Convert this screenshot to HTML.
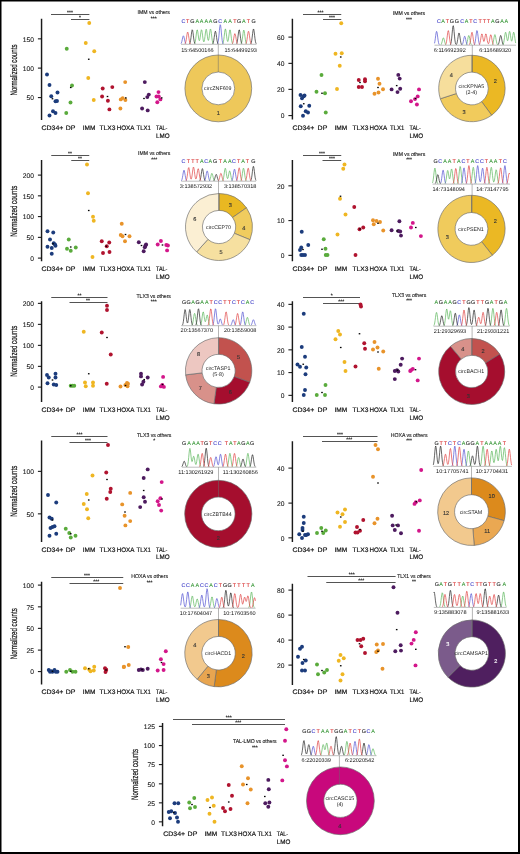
<!DOCTYPE html><html><head><meta charset="utf-8"><style>html,body{margin:0;padding:0;background:#fff;}svg{display:block;will-change:transform;}</style></head><body>
<svg width="520" height="854" viewBox="0 0 520 854" text-rendering="geometricPrecision" font-family='"Liberation Sans", sans-serif'>
<rect x="0" y="0" width="520" height="854" fill="#fff"/>
<line x1="41.55" y1="18.75" x2="41.55" y2="120" stroke="#1a1a1a" stroke-width="1.45"/>
<line x1="37.9" y1="38.85" x2="41.5" y2="38.85" stroke="#111" stroke-width="1.05"/>
<text x="33.9" y="41.5" font-size="6.7" text-anchor="end" fill="#1a1a1a" stroke="#1a1a1a" stroke-width="0.1">150</text>
<line x1="37.9" y1="68.1" x2="41.5" y2="68.1" stroke="#111" stroke-width="1.05"/>
<text x="33.9" y="70.75" font-size="6.7" text-anchor="end" fill="#1a1a1a" stroke="#1a1a1a" stroke-width="0.1">100</text>
<line x1="37.9" y1="97.6" x2="41.5" y2="97.6" stroke="#111" stroke-width="1.05"/>
<text x="33.9" y="100.25" font-size="6.7" text-anchor="end" fill="#1a1a1a" stroke="#1a1a1a" stroke-width="0.1">50</text>
<text transform="translate(17.2 70) rotate(-90)" x="0" y="0" font-size="9.4" text-anchor="middle" fill="#111" stroke="#111" stroke-width="0.2" textLength="51" lengthAdjust="spacingAndGlyphs">Normalized counts</text>
<text x="52.5" y="130.3" font-size="6.6" text-anchor="middle" fill="#111" stroke="#111" stroke-width="0.18" textLength="21.9" lengthAdjust="spacingAndGlyphs">CD34+</text>
<text x="70.6" y="130.3" font-size="6.6" text-anchor="middle" fill="#111" stroke="#111" stroke-width="0.18" textLength="9.7" lengthAdjust="spacingAndGlyphs">DP</text>
<text x="89.1" y="130.3" font-size="6.6" text-anchor="middle" fill="#111" stroke="#111" stroke-width="0.18" textLength="12.7" lengthAdjust="spacingAndGlyphs">IMM</text>
<text x="107.4" y="130.3" font-size="6.6" text-anchor="middle" fill="#111" stroke="#111" stroke-width="0.18" textLength="15.9" lengthAdjust="spacingAndGlyphs">TLX3</text>
<text x="125.5" y="130.3" font-size="6.6" text-anchor="middle" fill="#111" stroke="#111" stroke-width="0.18" textLength="17.7" lengthAdjust="spacingAndGlyphs">HOXA</text>
<text x="143.7" y="130.3" font-size="6.6" text-anchor="middle" fill="#111" stroke="#111" stroke-width="0.18" textLength="14.4" lengthAdjust="spacingAndGlyphs">TLX1</text>
<text x="156" y="130.3" font-size="6.6" fill="#111" stroke="#111" stroke-width="0.18" textLength="11.4" lengthAdjust="spacingAndGlyphs">TAL-</text>
<text x="156" y="138.1" font-size="6.6" fill="#111" stroke="#111" stroke-width="0.18" textLength="13.6" lengthAdjust="spacingAndGlyphs">LMO</text>
<line x1="51" y1="14.5" x2="89.4" y2="14.5" stroke="#4a4a4a" stroke-width="0.95"/>
<text x="70" y="14.1" font-size="5" text-anchor="middle" fill="#222" stroke="#222" stroke-width="0.15">***</text>
<line x1="71" y1="19.5" x2="89.4" y2="19.5" stroke="#4a4a4a" stroke-width="0.95"/>
<text x="80.1" y="19.1" font-size="5" text-anchor="middle" fill="#222" stroke="#222" stroke-width="0.15">*</text>
<circle cx="47" cy="74.5" r="1.95" fill="#1c3c7c"/>
<circle cx="49.5" cy="85" r="1.95" fill="#1c3c7c"/>
<circle cx="51.25" cy="96.25" r="1.95" fill="#1c3c7c"/>
<circle cx="57.5" cy="92.5" r="1.95" fill="#1c3c7c"/>
<circle cx="55.5" cy="101.25" r="1.95" fill="#1c3c7c"/>
<circle cx="57" cy="101" r="1.95" fill="#1c3c7c"/>
<circle cx="53" cy="111.25" r="1.95" fill="#1c3c7c"/>
<circle cx="55.5" cy="113" r="1.95" fill="#1c3c7c"/>
<circle cx="49.5" cy="115.5" r="1.95" fill="#1c3c7c"/>
<circle cx="66.75" cy="48.75" r="1.95" fill="#5aab3c"/>
<circle cx="72" cy="85.5" r="1.95" fill="#5aab3c"/>
<circle cx="70.5" cy="102.5" r="1.95" fill="#5aab3c"/>
<circle cx="66.25" cy="113" r="1.95" fill="#5aab3c"/>
<circle cx="89.25" cy="23" r="1.95" fill="#efb622"/>
<circle cx="85.75" cy="43" r="1.95" fill="#efb622"/>
<circle cx="94.25" cy="51.25" r="1.95" fill="#efb622"/>
<circle cx="88.25" cy="78" r="1.95" fill="#efb622"/>
<circle cx="93.75" cy="100" r="1.95" fill="#efb622"/>
<circle cx="102.7" cy="88.5" r="1.95" fill="#b0132f"/>
<circle cx="112.3" cy="87.1" r="1.95" fill="#b0132f"/>
<circle cx="102.1" cy="96.5" r="1.95" fill="#b0132f"/>
<circle cx="107.9" cy="100.8" r="1.95" fill="#b0132f"/>
<circle cx="109.4" cy="109.4" r="1.95" fill="#b0132f"/>
<circle cx="125.2" cy="82.1" r="1.95" fill="#e8932a"/>
<circle cx="120.8" cy="99.4" r="1.95" fill="#e8932a"/>
<circle cx="122.7" cy="98.1" r="1.95" fill="#e8932a"/>
<circle cx="125.4" cy="100" r="1.95" fill="#e8932a"/>
<circle cx="120.4" cy="108.5" r="1.95" fill="#e8932a"/>
<circle cx="144.8" cy="82.1" r="1.95" fill="#4d1b5f"/>
<circle cx="148.8" cy="94.6" r="1.95" fill="#4d1b5f"/>
<circle cx="147.3" cy="97.1" r="1.95" fill="#4d1b5f"/>
<circle cx="142.1" cy="108.5" r="1.95" fill="#4d1b5f"/>
<circle cx="147.7" cy="110.4" r="1.95" fill="#4d1b5f"/>
<circle cx="158.5" cy="92.1" r="1.95" fill="#d3168a"/>
<circle cx="156.5" cy="96.5" r="1.95" fill="#d3168a"/>
<circle cx="160.4" cy="99.4" r="1.95" fill="#d3168a"/>
<circle cx="157.3" cy="102.3" r="1.95" fill="#d3168a"/>
<circle cx="158.75" cy="96.5" r="1.95" fill="#d3168a"/>
<rect x="51.7" y="98.1" width="1.6" height="1.3" fill="#000"/>
<rect x="69.95" y="86.85" width="1.6" height="1.3" fill="#000"/>
<rect x="87.95" y="58.6" width="1.6" height="1.3" fill="#000"/>
<rect x="106.7" y="95.85" width="1.6" height="1.3" fill="#000"/>
<rect x="125" y="97.25" width="1.6" height="1.3" fill="#000"/>
<rect x="143.2" y="97.85" width="1.6" height="1.3" fill="#000"/>
<rect x="160.9" y="97.25" width="1.6" height="1.3" fill="#000"/>
<text x="153.75" y="14" font-size="5.6" text-anchor="middle" fill="#1a1a1a" stroke="#1a1a1a" stroke-width="0.12" textLength="32.3" lengthAdjust="spacingAndGlyphs">IMM vs others</text>
<text x="153.75" y="20.1" font-size="5" text-anchor="middle" fill="#222" stroke="#222" stroke-width="0.15">***</text>
<text x="183.4" y="22.55" font-size="5.4" text-anchor="middle" fill="#4040c8" stroke="#4040c8" stroke-width="0.1">C</text>
<text x="187.7" y="22.55" font-size="5.4" text-anchor="middle" fill="#d83030" stroke="#d83030" stroke-width="0.1">T</text>
<text x="192.3" y="22.55" font-size="5.4" text-anchor="middle" fill="#222" stroke="#222" stroke-width="0.1">G</text>
<text x="197.2" y="22.55" font-size="5.4" text-anchor="middle" fill="#3d9a3d" stroke="#3d9a3d" stroke-width="0.1">A</text>
<text x="201.5" y="22.55" font-size="5.4" text-anchor="middle" fill="#3d9a3d" stroke="#3d9a3d" stroke-width="0.1">A</text>
<text x="206.2" y="22.55" font-size="5.4" text-anchor="middle" fill="#3d9a3d" stroke="#3d9a3d" stroke-width="0.1">A</text>
<text x="210.5" y="22.55" font-size="5.4" text-anchor="middle" fill="#3d9a3d" stroke="#3d9a3d" stroke-width="0.1">A</text>
<text x="215.4" y="22.55" font-size="5.4" text-anchor="middle" fill="#222" stroke="#222" stroke-width="0.1">G</text>
<text x="220.3" y="22.55" font-size="5.4" text-anchor="middle" fill="#4040c8" stroke="#4040c8" stroke-width="0.1">C</text>
<text x="225.4" y="22.55" font-size="5.4" text-anchor="middle" fill="#3d9a3d" stroke="#3d9a3d" stroke-width="0.1">A</text>
<text x="230" y="22.55" font-size="5.4" text-anchor="middle" fill="#3d9a3d" stroke="#3d9a3d" stroke-width="0.1">A</text>
<text x="234.9" y="22.55" font-size="5.4" text-anchor="middle" fill="#d83030" stroke="#d83030" stroke-width="0.1">T</text>
<text x="239.2" y="22.55" font-size="5.4" text-anchor="middle" fill="#222" stroke="#222" stroke-width="0.1">G</text>
<text x="243.8" y="22.55" font-size="5.4" text-anchor="middle" fill="#3d9a3d" stroke="#3d9a3d" stroke-width="0.1">A</text>
<text x="248.5" y="22.55" font-size="5.4" text-anchor="middle" fill="#d83030" stroke="#d83030" stroke-width="0.1">T</text>
<text x="253.5" y="22.55" font-size="5.4" text-anchor="middle" fill="#222" stroke="#222" stroke-width="0.1">G</text>
<polyline points="194.6,43.62 195,42.67 195.4,40.94 195.8,38.3 196.2,35.02 196.6,31.9 197,29.96 197.4,29.96 197.8,31.87 198.2,34.92 198.6,37.98 199,40.08 199.4,40.7 199.8,39.68 200.2,37.27 200.6,34.11 201,31.24 201.4,29.76 201.8,30.28 202.2,32.6 202.6,35.82 203,38.89 203.4,41.03 203.8,41.87 204.2,41.3 204.6,39.38 205,36.38 205.4,32.99 205.8,30.25 206.2,29.2 206.6,30.24 207,32.94 207.4,36.24 207.8,39.01 208.2,40.44 208.6,40.2 209,38.32 209.4,35.26 209.8,31.93 210.2,29.51 210.6,28.97 211,30.55 211.4,33.63 211.8,37.14 212.2,40.15 212.6,42.22 213,43.4 213.4,43.96" fill="none" stroke="#5fb85f" stroke-width="0.72" stroke-linejoin="round"/>
<polyline points="222.6,43.86 223,43.17 223.4,41.79 223.8,39.48 224.2,36.29 224.6,32.78 225,29.98 225.4,28.9 225.8,29.97 226.2,32.76 226.6,36.21 227,39.23 227.4,41.11 227.8,41.54 228.2,40.5 228.6,38.15 229,34.98 229.4,31.89 229.8,29.96 230.2,29.96 230.6,31.9 231,35.02 231.4,38.3 231.8,40.94 232.2,42.67 232.6,43.62" fill="none" stroke="#5fb85f" stroke-width="0.72" stroke-linejoin="round"/>
<polyline points="241,43.89 241.4,43.26 241.8,41.99 242.2,39.85 242.6,36.91 243,33.68 243.4,31.09 243.8,30.1 244.2,31.09 244.6,33.68 245,36.91 245.4,39.85 245.8,41.99 246.2,43.26 246.6,43.89" fill="none" stroke="#5fb85f" stroke-width="0.72" stroke-linejoin="round"/>
<polyline points="181,43.68 181.4,42.91 181.8,41.64 182.2,39.88 182.6,37.94 183,36.39 183.4,35.8 183.8,36.39 184.2,37.94 184.6,39.88 185,41.64 185.4,42.91 185.8,43.68" fill="none" stroke="#5656d2" stroke-width="0.72" stroke-linejoin="round"/>
<polyline points="217.4,43.87 217.8,43.14 218.2,41.63 218.6,38.99 219,35.15 219.4,30.66 219.8,26.71 220.2,24.69 220.6,25.39 221,28.53 221.4,32.92 221.8,37.2 222.2,40.47 222.6,42.51 223,43.58 223.4,44.05" fill="none" stroke="#5656d2" stroke-width="0.72" stroke-linejoin="round"/>
<polyline points="189.4,43.98 189.8,43.44 190.2,42.32 190.6,40.36 191,37.52 191.4,34.19 191.8,31.26 192.2,29.77 192.6,30.28 193,32.61 193.4,35.87 193.8,39.04 194.2,41.46 194.6,42.97 195,43.76" fill="none" stroke="#2a2a2a" stroke-width="0.72" stroke-linejoin="round"/>
<polyline points="212.6,43.93 213,43.34 213.4,42.16 213.8,40.2 214.2,37.48 214.6,34.5 215,32.12 215.4,31.2 215.8,32.12 216.2,34.5 216.6,37.48 217,40.2 217.4,42.16 217.8,43.34 218.2,43.93" fill="none" stroke="#2a2a2a" stroke-width="0.72" stroke-linejoin="round"/>
<polyline points="236.6,43.62 237,42.67 237.4,40.94 237.8,38.3 238.2,35.02 238.6,31.9 239,29.96 239.4,29.96 239.8,31.9 240.2,35.02 240.6,38.3 241,40.94 241.4,42.67 241.8,43.62" fill="none" stroke="#2a2a2a" stroke-width="0.72" stroke-linejoin="round"/>
<polyline points="250.6,43.96 251,43.4 251.4,42.22 251.8,40.15 252.2,37.14 252.6,33.63 253,30.55 253.4,28.97 253.8,29.52 254.2,31.97 254.6,35.4 255,38.75 255.4,41.3 255.8,42.9 256.2,43.74" fill="none" stroke="#2a2a2a" stroke-width="0.72" stroke-linejoin="round"/>
<polyline points="185,43.85 185.4,43.18 185.8,41.91 186.2,39.87 186.6,37.19 187,34.45 187.4,32.49 187.8,32.06 188.2,33.32 188.6,35.78 189,38.58 189.4,40.98 189.8,42.64 190.2,43.58 190.6,44.03" fill="none" stroke="#e04848" stroke-width="0.72" stroke-linejoin="round"/>
<polyline points="232.2,43.9 232.6,43.32 233,42.2 233.4,40.41 233.8,38.06 234.2,35.65 234.6,33.93 235,33.55 235.4,34.66 235.8,36.82 236.2,39.28 236.6,41.39 237,42.84 237.4,43.67" fill="none" stroke="#e04848" stroke-width="0.72" stroke-linejoin="round"/>
<polyline points="245.8,43.82 246.2,43.11 246.6,41.75 247,39.58 247.4,36.73 247.8,33.81 248.2,31.72 248.6,31.26 249,32.6 249.4,35.23 249.8,38.21 250.2,40.77 250.6,42.53 251,43.53 251.4,44.01" fill="none" stroke="#e04848" stroke-width="0.72" stroke-linejoin="round"/>
<line x1="181" y1="44.3" x2="256.5" y2="44.3" stroke="#8a8a8a" stroke-width="0.55"/>
<text x="181.2" y="52.3" font-size="5.55" fill="#111">15:64500166</text>
<text x="256.8" y="52.3" font-size="5.55" text-anchor="end" fill="#111">15:64499293</text>
<path d="M184.9 88.4a33.4 33.4 0 1 0 66.8 0a33.4 33.4 0 1 0 -66.8 0ZM201.9 88.4a16.4 16.4 0 1 0 32.8 0a16.4 16.4 0 1 0 -32.8 0Z" fill="#eec85a" fill-rule="evenodd" stroke="#6a6a6a" stroke-width="0.65"/>
<line x1="218.3" y1="44.3" x2="218.3" y2="72" stroke="#6a6a6a" stroke-width="0.5"/>
<text x="218.3" y="114.5" font-size="5.6" text-anchor="middle" fill="#333" stroke="#333" stroke-width="0.12">1</text>
<text x="217.8" y="90.3" font-size="5.3" text-anchor="middle" fill="#222">circZNF609</text>
<line x1="292.4" y1="18.75" x2="292.4" y2="119.5" stroke="#1a1a1a" stroke-width="1.45"/>
<line x1="288.4" y1="37.1" x2="292" y2="37.1" stroke="#111" stroke-width="1.05"/>
<text x="284.4" y="39.75" font-size="6.7" text-anchor="end" fill="#1a1a1a" stroke="#1a1a1a" stroke-width="0.1">60</text>
<line x1="288.4" y1="63.35" x2="292" y2="63.35" stroke="#111" stroke-width="1.05"/>
<text x="284.4" y="66" font-size="6.7" text-anchor="end" fill="#1a1a1a" stroke="#1a1a1a" stroke-width="0.1">40</text>
<line x1="288.4" y1="89.35" x2="292" y2="89.35" stroke="#111" stroke-width="1.05"/>
<text x="284.4" y="92" font-size="6.7" text-anchor="end" fill="#1a1a1a" stroke="#1a1a1a" stroke-width="0.1">20</text>
<line x1="288.4" y1="115.6" x2="292" y2="115.6" stroke="#111" stroke-width="1.05"/>
<text x="284.4" y="118.25" font-size="6.7" text-anchor="end" fill="#1a1a1a" stroke="#1a1a1a" stroke-width="0.1">0</text>
<text x="303.35" y="130.3" font-size="6.6" text-anchor="middle" fill="#111" stroke="#111" stroke-width="0.18" textLength="21.9" lengthAdjust="spacingAndGlyphs">CD34+</text>
<text x="322.45" y="130.3" font-size="6.6" text-anchor="middle" fill="#111" stroke="#111" stroke-width="0.18" textLength="9.7" lengthAdjust="spacingAndGlyphs">DP</text>
<text x="340.85" y="130.3" font-size="6.6" text-anchor="middle" fill="#111" stroke="#111" stroke-width="0.18" textLength="12.7" lengthAdjust="spacingAndGlyphs">IMM</text>
<text x="360.4" y="130.3" font-size="6.6" text-anchor="middle" fill="#111" stroke="#111" stroke-width="0.18" textLength="15.9" lengthAdjust="spacingAndGlyphs">TLX3</text>
<text x="378.35" y="130.3" font-size="6.6" text-anchor="middle" fill="#111" stroke="#111" stroke-width="0.18" textLength="17.7" lengthAdjust="spacingAndGlyphs">HOXA</text>
<text x="397.1" y="130.3" font-size="6.6" text-anchor="middle" fill="#111" stroke="#111" stroke-width="0.18" textLength="14.4" lengthAdjust="spacingAndGlyphs">TLX1</text>
<text x="409.5" y="130.3" font-size="6.6" fill="#111" stroke="#111" stroke-width="0.18" textLength="11.4" lengthAdjust="spacingAndGlyphs">TAL-</text>
<text x="409.5" y="138.1" font-size="6.6" fill="#111" stroke="#111" stroke-width="0.18" textLength="13.6" lengthAdjust="spacingAndGlyphs">LMO</text>
<line x1="303" y1="14.5" x2="341.25" y2="14.5" stroke="#4a4a4a" stroke-width="0.95"/>
<text x="320.5" y="14.1" font-size="5" text-anchor="middle" fill="#222" stroke="#222" stroke-width="0.15">***</text>
<line x1="323" y1="19.5" x2="341.25" y2="19.5" stroke="#4a4a4a" stroke-width="0.95"/>
<text x="332" y="19.1" font-size="5" text-anchor="middle" fill="#222" stroke="#222" stroke-width="0.15">***</text>
<circle cx="300.5" cy="95" r="1.95" fill="#1c3c7c"/>
<circle cx="303.75" cy="96.25" r="1.95" fill="#1c3c7c"/>
<circle cx="302" cy="98.25" r="1.95" fill="#1c3c7c"/>
<circle cx="300.75" cy="106.25" r="1.95" fill="#1c3c7c"/>
<circle cx="309.25" cy="105.75" r="1.95" fill="#1c3c7c"/>
<circle cx="305.75" cy="111.25" r="1.95" fill="#1c3c7c"/>
<circle cx="308" cy="112.5" r="1.95" fill="#1c3c7c"/>
<circle cx="303" cy="115.75" r="1.95" fill="#1c3c7c"/>
<circle cx="304.5" cy="95.5" r="1.95" fill="#1c3c7c"/>
<circle cx="321.5" cy="75" r="1.95" fill="#5aab3c"/>
<circle cx="316.5" cy="91.75" r="1.95" fill="#5aab3c"/>
<circle cx="325" cy="93.25" r="1.95" fill="#5aab3c"/>
<circle cx="325.75" cy="112.5" r="1.95" fill="#5aab3c"/>
<circle cx="341.25" cy="23.25" r="1.95" fill="#efb622"/>
<circle cx="335.5" cy="53.75" r="1.95" fill="#efb622"/>
<circle cx="341.75" cy="53.25" r="1.95" fill="#efb622"/>
<circle cx="339.75" cy="65.75" r="1.95" fill="#efb622"/>
<circle cx="337" cy="89" r="1.95" fill="#efb622"/>
<circle cx="358.75" cy="80" r="1.95" fill="#b0132f"/>
<circle cx="365" cy="79.25" r="1.95" fill="#b0132f"/>
<circle cx="365" cy="81.25" r="1.95" fill="#b0132f"/>
<circle cx="358.75" cy="87" r="1.95" fill="#b0132f"/>
<circle cx="362" cy="87" r="1.95" fill="#b0132f"/>
<circle cx="378" cy="78.75" r="1.95" fill="#e8932a"/>
<circle cx="379.5" cy="83.75" r="1.95" fill="#e8932a"/>
<circle cx="383" cy="89.25" r="1.95" fill="#e8932a"/>
<circle cx="378.5" cy="92.5" r="1.95" fill="#e8932a"/>
<circle cx="374.5" cy="93.75" r="1.95" fill="#e8932a"/>
<circle cx="398.3" cy="74.9" r="1.95" fill="#4d1b5f"/>
<circle cx="399.7" cy="78.6" r="1.95" fill="#4d1b5f"/>
<circle cx="391.6" cy="89.4" r="1.95" fill="#4d1b5f"/>
<circle cx="400.2" cy="88.8" r="1.95" fill="#4d1b5f"/>
<circle cx="397.5" cy="92.1" r="1.95" fill="#4d1b5f"/>
<circle cx="419" cy="89.4" r="1.95" fill="#d3168a"/>
<circle cx="417.7" cy="96.4" r="1.95" fill="#d3168a"/>
<circle cx="415" cy="99.1" r="1.95" fill="#d3168a"/>
<circle cx="411" cy="101.2" r="1.95" fill="#d3168a"/>
<circle cx="416.9" cy="104.5" r="1.95" fill="#d3168a"/>
<rect x="302.95" y="103.1" width="1.6" height="1.3" fill="#000"/>
<rect x="321.2" y="92.6" width="1.6" height="1.3" fill="#000"/>
<rect x="339.95" y="56.35" width="1.6" height="1.3" fill="#000"/>
<rect x="359.2" y="81.85" width="1.6" height="1.3" fill="#000"/>
<rect x="377.2" y="86.85" width="1.6" height="1.3" fill="#000"/>
<rect x="395.9" y="84.95" width="1.6" height="1.3" fill="#000"/>
<rect x="414.7" y="97.85" width="1.6" height="1.3" fill="#000"/>
<text x="409" y="14.65" font-size="5.6" text-anchor="middle" fill="#1a1a1a" stroke="#1a1a1a" stroke-width="0.12" textLength="32.3" lengthAdjust="spacingAndGlyphs">IMM vs others</text>
<text x="409" y="20.9" font-size="5" text-anchor="middle" fill="#222" stroke="#222" stroke-width="0.15">***</text>
<text x="438.9" y="22.95" font-size="5.4" text-anchor="middle" fill="#4040c8" stroke="#4040c8" stroke-width="0.1">C</text>
<text x="443.1" y="22.95" font-size="5.4" text-anchor="middle" fill="#3d9a3d" stroke="#3d9a3d" stroke-width="0.1">A</text>
<text x="447.3" y="22.95" font-size="5.4" text-anchor="middle" fill="#d83030" stroke="#d83030" stroke-width="0.1">T</text>
<text x="451.9" y="22.95" font-size="5.4" text-anchor="middle" fill="#222" stroke="#222" stroke-width="0.1">G</text>
<text x="456.9" y="22.95" font-size="5.4" text-anchor="middle" fill="#222" stroke="#222" stroke-width="0.1">G</text>
<text x="462.3" y="22.95" font-size="5.4" text-anchor="middle" fill="#4040c8" stroke="#4040c8" stroke-width="0.1">C</text>
<text x="466.5" y="22.95" font-size="5.4" text-anchor="middle" fill="#3d9a3d" stroke="#3d9a3d" stroke-width="0.1">A</text>
<text x="470.9" y="22.95" font-size="5.4" text-anchor="middle" fill="#d83030" stroke="#d83030" stroke-width="0.1">T</text>
<text x="475.3" y="22.95" font-size="5.4" text-anchor="middle" fill="#4040c8" stroke="#4040c8" stroke-width="0.1">C</text>
<text x="480.2" y="22.95" font-size="5.4" text-anchor="middle" fill="#d83030" stroke="#d83030" stroke-width="0.1">T</text>
<text x="484.3" y="22.95" font-size="5.4" text-anchor="middle" fill="#d83030" stroke="#d83030" stroke-width="0.1">T</text>
<text x="488.4" y="22.95" font-size="5.4" text-anchor="middle" fill="#d83030" stroke="#d83030" stroke-width="0.1">T</text>
<text x="492.8" y="22.95" font-size="5.4" text-anchor="middle" fill="#3d9a3d" stroke="#3d9a3d" stroke-width="0.1">A</text>
<text x="497.4" y="22.95" font-size="5.4" text-anchor="middle" fill="#222" stroke="#222" stroke-width="0.1">G</text>
<text x="502" y="22.95" font-size="5.4" text-anchor="middle" fill="#3d9a3d" stroke="#3d9a3d" stroke-width="0.1">A</text>
<text x="506.4" y="22.95" font-size="5.4" text-anchor="middle" fill="#3d9a3d" stroke="#3d9a3d" stroke-width="0.1">A</text>
<polyline points="440.9,44.77 441.3,44.2 441.7,43.2 442.1,41.76 442.5,40.07 442.9,38.59 443.3,37.83 443.7,38.1 444.1,39.27 444.5,40.93 444.9,42.53 445.3,43.76 445.7,44.53 446.1,44.93" fill="none" stroke="#5fb85f" stroke-width="0.72" stroke-linejoin="round"/>
<polyline points="466.1,44.84 466.5,44.31 466.9,43.29 467.3,41.67 467.7,39.54 468.1,37.35 468.5,35.79 468.9,35.44 469.3,36.45 469.7,38.41 470.1,40.65 470.5,42.56 470.9,43.87 471.3,44.62" fill="none" stroke="#5fb85f" stroke-width="0.72" stroke-linejoin="round"/>
<polyline points="492.1,44.9 492.5,44.42 492.9,43.47 493.3,41.88 493.7,39.68 494.1,37.27 494.5,35.34 494.9,34.6 495.3,35.34 495.7,37.27 496.1,39.68 496.5,41.88 496.9,43.47 497.3,44.42 497.7,44.9" fill="none" stroke="#5fb85f" stroke-width="0.72" stroke-linejoin="round"/>
<polyline points="502.9,44.72 503.3,44.02 503.7,42.67 504.1,40.51 504.5,37.69 504.9,34.79 505.3,32.72 505.7,32.24 506.1,33.54 506.5,36.02 506.9,38.65 507.3,40.43 507.7,40.74 508.1,39.43 508.5,36.88 508.9,33.98 509.3,31.83 509.7,31.35 510.1,32.75 510.5,35.45 510.9,38.37 511.3,40.5 511.7,41.2 512.1,40.31 512.5,38.13 512.9,35.38 513.3,33.08 513.7,32.19 514.1,33.11 514.5,35.47 514.9,38.43 515.3,41.13 515.7,43.08" fill="none" stroke="#5fb85f" stroke-width="0.72" stroke-linejoin="round"/>
<polyline points="434.5,43.32 434.9,41.45 435.3,38.74 435.7,35.57 436.1,32.79 436.5,31.36 436.9,31.86 437.3,34.07 437.7,37.17 438.1,40.19 438.5,42.5 438.9,43.94 439.3,44.69" fill="none" stroke="#5656d2" stroke-width="0.72" stroke-linejoin="round"/>
<polyline points="462.1,44.78 462.5,44.2 462.9,43.13 463.3,41.5 463.7,39.48 464.1,37.56 464.5,36.36 464.9,36.36 465.3,37.56 465.7,39.48 466.1,41.5 466.5,43.13 466.9,44.2 467.3,44.78" fill="none" stroke="#5656d2" stroke-width="0.72" stroke-linejoin="round"/>
<polyline points="474.1,44.88 474.5,44.34 474.9,43.21 475.3,41.24 475.7,38.37 476.1,35.02 476.5,32.08 476.9,30.57 477.3,31.09 477.7,33.43 478.1,36.71 478.5,39.9 478.9,42.34 479.3,43.87 479.7,44.66" fill="none" stroke="#5656d2" stroke-width="0.72" stroke-linejoin="round"/>
<polyline points="450.1,44.95 450.5,44.48 450.9,43.42 451.3,41.39 451.7,38.14 452.1,33.88 452.5,29.51 452.9,26.38 453.3,25.69 453.7,27.7 454.1,31.63 454.5,36.09 454.9,39.91 455.3,42.52 455.7,43.96 456.1,44.5 456.5,44.34 456.9,43.5 457.3,41.87 457.7,39.48 458.1,36.68 458.5,34.22 458.9,32.96 459.3,33.39 459.7,35.35 460.1,38.09 460.5,40.77 460.9,42.81 461.3,44.08 461.7,44.75" fill="none" stroke="#2a2a2a" stroke-width="0.72" stroke-linejoin="round"/>
<polyline points="498.1,44.74 498.5,44.11 498.9,42.95 499.3,41.17 499.7,38.97 500.1,36.88 500.5,35.58 500.9,35.58 501.3,36.88 501.7,38.97 502.1,41.17 502.5,42.95 502.9,44.11 503.3,44.74" fill="none" stroke="#2a2a2a" stroke-width="0.72" stroke-linejoin="round"/>
<polyline points="445.7,44.51 446.1,43.56 446.5,41.82 446.9,39.16 447.3,35.86 447.7,32.71 448.1,30.76 448.5,30.76 448.9,32.71 449.3,35.86 449.7,39.16 450.1,41.82 450.5,43.56 450.9,44.51" fill="none" stroke="#e04848" stroke-width="0.72" stroke-linejoin="round"/>
<polyline points="469.3,44.72 469.7,44.02 470.1,42.67 470.5,40.51 470.9,37.69 471.3,34.79 471.7,32.72 472.1,32.26 472.5,33.59 472.9,36.2 473.3,39.16 473.7,41.69 474.1,43.44 474.5,44.44 474.9,44.91" fill="none" stroke="#e04848" stroke-width="0.72" stroke-linejoin="round"/>
<polyline points="479.3,44.67 479.7,43.93 480.1,42.58 480.5,40.51 480.9,37.96 481.3,35.52 481.7,34 482.1,33.99 482.5,35.46 482.9,37.76 483.3,39.98 483.7,41.31 484.1,41.31 484.5,39.98 484.9,37.76 485.3,35.46 485.7,33.99 486.1,34 486.5,35.51 486.9,37.95 487.3,40.47 487.7,42.44 488.1,43.54 488.5,43.71 488.9,42.95 489.3,41.32 489.7,39.06 490.1,36.71 490.5,35.02 490.9,34.65 491.3,35.74 491.7,37.86 492.1,40.27 492.5,42.34 492.9,43.77 493.3,44.58" fill="none" stroke="#e04848" stroke-width="0.72" stroke-linejoin="round"/>
<line x1="434.5" y1="45.2" x2="516" y2="45.2" stroke="#8a8a8a" stroke-width="0.55"/>
<text x="433.8" y="52.3" font-size="5.55" fill="#111">6:116692392</text>
<text x="511.2" y="52.3" font-size="5.55" text-anchor="end" fill="#111">6:116689320</text>
<path d="M471.9 55.3A33.2 33.2 0 0 1 491.65 115.19L481.66 101.68A16.4 16.4 0 0 0 471.9 72.1Z" fill="#ebb824" stroke="#6a6a6a" stroke-width="0.65"/>
<path d="M491.65 115.19A33.2 33.2 0 0 1 440.32 98.76L456.3 93.57A16.4 16.4 0 0 0 481.66 101.68Z" fill="#f1cb5c" stroke="#6a6a6a" stroke-width="0.65"/>
<path d="M440.32 98.76A33.2 33.2 0 0 1 471.9 55.3L471.9 72.1A16.4 16.4 0 0 0 456.3 93.57Z" fill="#f6de9c" stroke="#6a6a6a" stroke-width="0.65"/>
<line x1="472.3" y1="45.2" x2="472.3" y2="72.1" stroke="#6a6a6a" stroke-width="0.5"/>
<text x="495.2" y="82.8" font-size="5.6" text-anchor="middle" fill="#333" stroke="#333" stroke-width="0.12">2</text>
<text x="464" y="113.7" font-size="5.6" text-anchor="middle" fill="#333" stroke="#333" stroke-width="0.12">3</text>
<text x="451.4" y="76.9" font-size="5.6" text-anchor="middle" fill="#333" stroke="#333" stroke-width="0.12">4</text>
<text x="471.4" y="87.5" font-size="5.3" text-anchor="middle" fill="#222">circKPNA5</text>
<text x="471.4" y="93.7" font-size="5.3" text-anchor="middle" fill="#222">(2-4)</text>
<line x1="41.55" y1="160" x2="41.55" y2="261.25" stroke="#1a1a1a" stroke-width="1.45"/>
<line x1="37.9" y1="175.1" x2="41.5" y2="175.1" stroke="#111" stroke-width="1.05"/>
<text x="33.9" y="177.75" font-size="6.7" text-anchor="end" fill="#1a1a1a" stroke="#1a1a1a" stroke-width="0.1">200</text>
<line x1="37.9" y1="195.85" x2="41.5" y2="195.85" stroke="#111" stroke-width="1.05"/>
<text x="33.9" y="198.5" font-size="6.7" text-anchor="end" fill="#1a1a1a" stroke="#1a1a1a" stroke-width="0.1">150</text>
<line x1="37.9" y1="216.6" x2="41.5" y2="216.6" stroke="#111" stroke-width="1.05"/>
<text x="33.9" y="219.25" font-size="6.7" text-anchor="end" fill="#1a1a1a" stroke="#1a1a1a" stroke-width="0.1">100</text>
<line x1="37.9" y1="237.35" x2="41.5" y2="237.35" stroke="#111" stroke-width="1.05"/>
<text x="33.9" y="240" font-size="6.7" text-anchor="end" fill="#1a1a1a" stroke="#1a1a1a" stroke-width="0.1">50</text>
<line x1="37.9" y1="258.1" x2="41.5" y2="258.1" stroke="#111" stroke-width="1.05"/>
<text x="33.9" y="260.75" font-size="6.7" text-anchor="end" fill="#1a1a1a" stroke="#1a1a1a" stroke-width="0.1">0</text>
<text transform="translate(17.2 211.25) rotate(-90)" x="0" y="0" font-size="9.4" text-anchor="middle" fill="#111" stroke="#111" stroke-width="0.2" textLength="51" lengthAdjust="spacingAndGlyphs">Normalized counts</text>
<text x="52.5" y="271.1" font-size="6.6" text-anchor="middle" fill="#111" stroke="#111" stroke-width="0.18" textLength="21.9" lengthAdjust="spacingAndGlyphs">CD34+</text>
<text x="70.6" y="271.1" font-size="6.6" text-anchor="middle" fill="#111" stroke="#111" stroke-width="0.18" textLength="9.7" lengthAdjust="spacingAndGlyphs">DP</text>
<text x="89.1" y="271.1" font-size="6.6" text-anchor="middle" fill="#111" stroke="#111" stroke-width="0.18" textLength="12.7" lengthAdjust="spacingAndGlyphs">IMM</text>
<text x="107.4" y="271.1" font-size="6.6" text-anchor="middle" fill="#111" stroke="#111" stroke-width="0.18" textLength="15.9" lengthAdjust="spacingAndGlyphs">TLX3</text>
<text x="125.5" y="271.1" font-size="6.6" text-anchor="middle" fill="#111" stroke="#111" stroke-width="0.18" textLength="17.7" lengthAdjust="spacingAndGlyphs">HOXA</text>
<text x="143.7" y="271.1" font-size="6.6" text-anchor="middle" fill="#111" stroke="#111" stroke-width="0.18" textLength="14.4" lengthAdjust="spacingAndGlyphs">TLX1</text>
<text x="156" y="271.1" font-size="6.6" fill="#111" stroke="#111" stroke-width="0.18" textLength="11.4" lengthAdjust="spacingAndGlyphs">TAL-</text>
<text x="156" y="278.9" font-size="6.6" fill="#111" stroke="#111" stroke-width="0.18" textLength="13.6" lengthAdjust="spacingAndGlyphs">LMO</text>
<line x1="51.25" y1="155.5" x2="89.25" y2="155.5" stroke="#4a4a4a" stroke-width="0.95"/>
<text x="70" y="155.1" font-size="5" text-anchor="middle" fill="#222" stroke="#222" stroke-width="0.15">**</text>
<line x1="71.25" y1="160.5" x2="89.25" y2="160.5" stroke="#4a4a4a" stroke-width="0.95"/>
<text x="80" y="160.1" font-size="5" text-anchor="middle" fill="#222" stroke="#222" stroke-width="0.15">**</text>
<circle cx="47.5" cy="231.25" r="1.95" fill="#1c3c7c"/>
<circle cx="53.25" cy="232.5" r="1.95" fill="#1c3c7c"/>
<circle cx="50" cy="239.5" r="1.95" fill="#1c3c7c"/>
<circle cx="53.75" cy="243.25" r="1.95" fill="#1c3c7c"/>
<circle cx="55" cy="244.5" r="1.95" fill="#1c3c7c"/>
<circle cx="47.5" cy="246.75" r="1.95" fill="#1c3c7c"/>
<circle cx="51.75" cy="248" r="1.95" fill="#1c3c7c"/>
<circle cx="55.5" cy="245.75" r="1.95" fill="#1c3c7c"/>
<circle cx="51.75" cy="253.75" r="1.95" fill="#1c3c7c"/>
<circle cx="68.75" cy="239.5" r="1.95" fill="#5aab3c"/>
<circle cx="67" cy="248.75" r="1.95" fill="#5aab3c"/>
<circle cx="70.75" cy="250.75" r="1.95" fill="#5aab3c"/>
<circle cx="75.75" cy="247.5" r="1.95" fill="#5aab3c"/>
<circle cx="87" cy="164.5" r="1.95" fill="#efb622"/>
<circle cx="88" cy="193.25" r="1.95" fill="#efb622"/>
<circle cx="93" cy="216.75" r="1.95" fill="#efb622"/>
<circle cx="93.75" cy="220.75" r="1.95" fill="#efb622"/>
<circle cx="92.5" cy="257" r="1.95" fill="#efb622"/>
<circle cx="101.75" cy="241.25" r="1.95" fill="#b0132f"/>
<circle cx="109.25" cy="242.5" r="1.95" fill="#b0132f"/>
<circle cx="106.75" cy="246.25" r="1.95" fill="#b0132f"/>
<circle cx="103" cy="253" r="1.95" fill="#b0132f"/>
<circle cx="109.5" cy="252" r="1.95" fill="#b0132f"/>
<circle cx="121.75" cy="223.75" r="1.95" fill="#e8932a"/>
<circle cx="120.75" cy="235" r="1.95" fill="#e8932a"/>
<circle cx="122.5" cy="236.25" r="1.95" fill="#e8932a"/>
<circle cx="125" cy="241.25" r="1.95" fill="#e8932a"/>
<circle cx="129.5" cy="236.25" r="1.95" fill="#e8932a"/>
<circle cx="138.8" cy="242.3" r="1.95" fill="#4d1b5f"/>
<circle cx="146.1" cy="244.5" r="1.95" fill="#4d1b5f"/>
<circle cx="144.8" cy="247.2" r="1.95" fill="#4d1b5f"/>
<circle cx="143.7" cy="251.2" r="1.95" fill="#4d1b5f"/>
<circle cx="145.5" cy="245.5" r="1.95" fill="#4d1b5f"/>
<circle cx="160.9" cy="241" r="1.95" fill="#d3168a"/>
<circle cx="157.7" cy="244.5" r="1.95" fill="#d3168a"/>
<circle cx="166.3" cy="245" r="1.95" fill="#d3168a"/>
<circle cx="167.9" cy="245.5" r="1.95" fill="#d3168a"/>
<circle cx="167.1" cy="250.4" r="1.95" fill="#d3168a"/>
<rect x="52.2" y="243.1" width="1.6" height="1.3" fill="#000"/>
<rect x="69.95" y="246.35" width="1.6" height="1.3" fill="#000"/>
<rect x="87.95" y="209.85" width="1.6" height="1.3" fill="#000"/>
<rect x="105.45" y="245.6" width="1.6" height="1.3" fill="#000"/>
<rect x="124.7" y="233.85" width="1.6" height="1.3" fill="#000"/>
<rect x="140.7" y="244.85" width="1.6" height="1.3" fill="#000"/>
<rect x="161.7" y="244.35" width="1.6" height="1.3" fill="#000"/>
<text x="154.2" y="154.9" font-size="5.6" text-anchor="middle" fill="#1a1a1a" stroke="#1a1a1a" stroke-width="0.12" textLength="32.3" lengthAdjust="spacingAndGlyphs">IMM vs others</text>
<text x="154.2" y="160.9" font-size="5" text-anchor="middle" fill="#222" stroke="#222" stroke-width="0.15">***</text>
<text x="183.5" y="162.95" font-size="5.4" text-anchor="middle" fill="#4040c8" stroke="#4040c8" stroke-width="0.1">C</text>
<text x="188.3" y="162.95" font-size="5.4" text-anchor="middle" fill="#d83030" stroke="#d83030" stroke-width="0.1">T</text>
<text x="193" y="162.95" font-size="5.4" text-anchor="middle" fill="#d83030" stroke="#d83030" stroke-width="0.1">T</text>
<text x="197.2" y="162.95" font-size="5.4" text-anchor="middle" fill="#d83030" stroke="#d83030" stroke-width="0.1">T</text>
<text x="201.7" y="162.95" font-size="5.4" text-anchor="middle" fill="#3d9a3d" stroke="#3d9a3d" stroke-width="0.1">A</text>
<text x="206.1" y="162.95" font-size="5.4" text-anchor="middle" fill="#4040c8" stroke="#4040c8" stroke-width="0.1">C</text>
<text x="210.3" y="162.95" font-size="5.4" text-anchor="middle" fill="#3d9a3d" stroke="#3d9a3d" stroke-width="0.1">A</text>
<text x="215.1" y="162.95" font-size="5.4" text-anchor="middle" fill="#222" stroke="#222" stroke-width="0.1">G</text>
<text x="220.3" y="162.95" font-size="5.4" text-anchor="middle" fill="#d83030" stroke="#d83030" stroke-width="0.1">T</text>
<text x="225" y="162.95" font-size="5.4" text-anchor="middle" fill="#3d9a3d" stroke="#3d9a3d" stroke-width="0.1">A</text>
<text x="229.7" y="162.95" font-size="5.4" text-anchor="middle" fill="#3d9a3d" stroke="#3d9a3d" stroke-width="0.1">A</text>
<text x="234" y="162.95" font-size="5.4" text-anchor="middle" fill="#4040c8" stroke="#4040c8" stroke-width="0.1">C</text>
<text x="238.7" y="162.95" font-size="5.4" text-anchor="middle" fill="#d83030" stroke="#d83030" stroke-width="0.1">T</text>
<text x="243" y="162.95" font-size="5.4" text-anchor="middle" fill="#3d9a3d" stroke="#3d9a3d" stroke-width="0.1">A</text>
<text x="247.4" y="162.95" font-size="5.4" text-anchor="middle" fill="#d83030" stroke="#d83030" stroke-width="0.1">T</text>
<text x="253.4" y="162.95" font-size="5.4" text-anchor="middle" fill="#222" stroke="#222" stroke-width="0.1">G</text>
<polyline points="209.2,180.91 209.6,180.48 210,179.66 210.4,178.35 210.8,176.64 211.2,174.87 211.6,173.62 212,173.34 212.4,174.15 212.8,175.73 213.2,177.53 213.6,179.07 214,180.13 214.4,180.74" fill="none" stroke="#5fb85f" stroke-width="0.72" stroke-linejoin="round"/>
<polyline points="222.4,180.91 222.8,180.43 223.2,179.43 223.6,177.67 224,175.11 224.4,172.13 224.8,169.5 225.2,168.16 225.6,168.62 226,170.69 226.4,173.56 226.8,176.25 227.2,178.05 227.6,178.62 228,177.94 228.4,176.25 228.8,174.02 229.2,171.99 229.6,170.94 230,171.31 230.4,172.95 230.8,175.25 231.2,177.49 231.6,179.2 232,180.26 232.4,180.82" fill="none" stroke="#5fb85f" stroke-width="0.72" stroke-linejoin="round"/>
<polyline points="240.8,180.72 241.2,180.01 241.6,178.65 242,176.48 242.4,173.63 242.8,170.71 243.2,168.62 243.6,168.16 244,169.5 244.4,172.13 244.8,175.11 245.2,177.67 245.6,179.43 246,180.43 246.4,180.91" fill="none" stroke="#5fb85f" stroke-width="0.72" stroke-linejoin="round"/>
<polyline points="181.2,180.89 181.6,180.39 182,179.41 182.4,177.76 182.8,175.48 183.2,172.97 183.6,170.97 184,170.2 184.4,170.97 184.8,172.97 185.2,175.48 185.6,177.76 186,179.41 186.4,180.39 186.8,180.89" fill="none" stroke="#5656d2" stroke-width="0.72" stroke-linejoin="round"/>
<polyline points="204.4,180.91 204.8,180.44 205.2,179.52 205.6,177.97 206,175.84 206.4,173.49 206.8,171.62 207.2,170.9 207.6,171.62 208,173.49 208.4,175.84 208.8,177.97 209.2,179.52 209.6,180.44 210,180.91" fill="none" stroke="#5656d2" stroke-width="0.72" stroke-linejoin="round"/>
<polyline points="231.6,180.93 232,180.49 232.4,179.56 232.8,177.94 233.2,175.58 233.6,172.82 234,170.4 234.4,169.15 234.8,169.58 235.2,171.51 235.6,174.21 236,176.84 236.4,178.85 236.8,180.1 237.2,180.76" fill="none" stroke="#5656d2" stroke-width="0.72" stroke-linejoin="round"/>
<polyline points="199.6,180.84 200,180.28 200.4,179.15 200.8,177.25 201.2,174.64 201.6,171.77 202,169.48 202.4,168.6 202.8,169.48 203.2,171.77 203.6,174.64 204,177.25 204.4,179.15 204.8,180.28 205.2,180.84" fill="none" stroke="#2a2a2a" stroke-width="0.72" stroke-linejoin="round"/>
<polyline points="213.6,180.88 214,180.44 214.4,179.64 214.8,178.4 215.2,176.88 215.6,175.42 216,174.52 216.4,174.52 216.8,175.42 217.2,176.88 217.6,178.4 218,179.64 218.4,180.44 218.8,180.88" fill="none" stroke="#2a2a2a" stroke-width="0.72" stroke-linejoin="round"/>
<polyline points="250.4,180.95 250.8,180.5 251.2,179.53 251.6,177.75 252,175.03 252.4,171.67 252.8,168.46 253.2,166.47 253.6,166.47 254,168.46 254.4,171.67 254.8,175.03 255.2,177.75 255.6,179.53 256,180.5" fill="none" stroke="#2a2a2a" stroke-width="0.72" stroke-linejoin="round"/>
<polyline points="186,180.7 186.4,179.96 186.8,178.53 187.2,176.26 187.6,173.29 188,170.23 188.4,168.05 188.8,167.56 189.2,168.97 189.6,171.7 190,174.78 190.4,177.32 190.8,178.83 191.2,179.11 191.6,178.14 192,175.98 192.4,172.97 192.8,169.82 193.2,167.57 193.6,167.06 194,168.52 194.4,171.35 194.8,174.54 195.2,177.16 195.6,178.69 196,178.96 196.4,177.99 196.8,175.92 197.2,173.17 197.6,170.49 198,168.83 198.4,168.83 198.8,170.5 199.2,173.19 199.6,176.02 200,178.3 200.4,179.8 200.8,180.61" fill="none" stroke="#e04848" stroke-width="0.72" stroke-linejoin="round"/>
<polyline points="218.4,180.74 218.8,180.13 219.2,179.07 219.6,177.53 220,175.73 220.4,174.15 220.8,173.34 221.2,173.62 221.6,174.87 222,176.64 222.4,178.35 222.8,179.66 223.2,180.48 223.6,180.91" fill="none" stroke="#e04848" stroke-width="0.72" stroke-linejoin="round"/>
<polyline points="236.4,180.82 236.8,180.22 237.2,179.02 237.6,177 238,174.23 238.4,171.18 238.8,168.74 239.2,167.8 239.6,168.74 240,171.18 240.4,174.23 240.8,177 241.2,179.02 241.6,180.22 242,180.82" fill="none" stroke="#e04848" stroke-width="0.72" stroke-linejoin="round"/>
<polyline points="245.6,180.59 246,179.74 246.4,178.19 246.8,175.81 247.2,172.88 247.6,170.07 248,168.34 248.4,168.34 248.8,170.07 249.2,172.88 249.6,175.81 250,178.19 250.4,179.74 250.8,180.59" fill="none" stroke="#e04848" stroke-width="0.72" stroke-linejoin="round"/>
<line x1="181.2" y1="181.2" x2="256" y2="181.2" stroke="#8a8a8a" stroke-width="0.55"/>
<text x="179.8" y="188.3" font-size="5.55" fill="#111">3:138572932</text>
<text x="256.3" y="188.3" font-size="5.55" text-anchor="end" fill="#111">3:138570318</text>
<path d="M219 193.5A33.5 33.5 0 0 1 246.44 207.79L232.6 217.48A16.6 16.6 0 0 0 219 210.4Z" fill="#e9b822" stroke="#6a6a6a" stroke-width="0.65"/>
<path d="M246.44 207.79A33.5 33.5 0 0 1 249.99 239.71L234.36 233.3A16.6 16.6 0 0 0 232.6 217.48Z" fill="#f0cc5e" stroke="#6a6a6a" stroke-width="0.65"/>
<path d="M249.99 239.71A33.5 33.5 0 0 1 196.63 251.93L207.91 239.36A16.6 16.6 0 0 0 234.36 233.3Z" fill="#f6e0a0" stroke="#6a6a6a" stroke-width="0.65"/>
<path d="M196.63 251.93A33.5 33.5 0 0 1 219 193.5L219 210.4A16.6 16.6 0 0 0 207.91 239.36Z" fill="#fbefd3" stroke="#6a6a6a" stroke-width="0.65"/>
<line x1="218.5" y1="181.2" x2="218.5" y2="210.4" stroke="#6a6a6a" stroke-width="0.5"/>
<text x="230.4" y="206.6" font-size="5.6" text-anchor="middle" fill="#333" stroke="#333" stroke-width="0.12">3</text>
<text x="243.9" y="229.5" font-size="5.6" text-anchor="middle" fill="#333" stroke="#333" stroke-width="0.12">4</text>
<text x="221" y="253.7" font-size="5.6" text-anchor="middle" fill="#333" stroke="#333" stroke-width="0.12">5</text>
<text x="194.9" y="220.6" font-size="5.6" text-anchor="middle" fill="#333" stroke="#333" stroke-width="0.12">6</text>
<text x="218.5" y="228.9" font-size="5.3" text-anchor="middle" fill="#222">circCEP70</text>
<line x1="292.4" y1="160" x2="292.4" y2="261.25" stroke="#1a1a1a" stroke-width="1.45"/>
<line x1="288.4" y1="185.85" x2="292" y2="185.85" stroke="#111" stroke-width="1.05"/>
<text x="284.4" y="188.5" font-size="6.7" text-anchor="end" fill="#1a1a1a" stroke="#1a1a1a" stroke-width="0.1">20</text>
<line x1="288.4" y1="220.6" x2="292" y2="220.6" stroke="#111" stroke-width="1.05"/>
<text x="284.4" y="223.25" font-size="6.7" text-anchor="end" fill="#1a1a1a" stroke="#1a1a1a" stroke-width="0.1">10</text>
<line x1="288.4" y1="255.35" x2="292" y2="255.35" stroke="#111" stroke-width="1.05"/>
<text x="284.4" y="258" font-size="6.7" text-anchor="end" fill="#1a1a1a" stroke="#1a1a1a" stroke-width="0.1">0</text>
<text x="303.35" y="271.1" font-size="6.6" text-anchor="middle" fill="#111" stroke="#111" stroke-width="0.18" textLength="21.9" lengthAdjust="spacingAndGlyphs">CD34+</text>
<text x="322.45" y="271.1" font-size="6.6" text-anchor="middle" fill="#111" stroke="#111" stroke-width="0.18" textLength="9.7" lengthAdjust="spacingAndGlyphs">DP</text>
<text x="340.85" y="271.1" font-size="6.6" text-anchor="middle" fill="#111" stroke="#111" stroke-width="0.18" textLength="12.7" lengthAdjust="spacingAndGlyphs">IMM</text>
<text x="360.4" y="271.1" font-size="6.6" text-anchor="middle" fill="#111" stroke="#111" stroke-width="0.18" textLength="15.9" lengthAdjust="spacingAndGlyphs">TLX3</text>
<text x="378.35" y="271.1" font-size="6.6" text-anchor="middle" fill="#111" stroke="#111" stroke-width="0.18" textLength="17.7" lengthAdjust="spacingAndGlyphs">HOXA</text>
<text x="397.1" y="271.1" font-size="6.6" text-anchor="middle" fill="#111" stroke="#111" stroke-width="0.18" textLength="14.4" lengthAdjust="spacingAndGlyphs">TLX1</text>
<text x="409.5" y="271.1" font-size="6.6" fill="#111" stroke="#111" stroke-width="0.18" textLength="11.4" lengthAdjust="spacingAndGlyphs">TAL-</text>
<text x="409.5" y="278.9" font-size="6.6" fill="#111" stroke="#111" stroke-width="0.18" textLength="13.6" lengthAdjust="spacingAndGlyphs">LMO</text>
<line x1="303" y1="155.5" x2="341.25" y2="155.5" stroke="#4a4a4a" stroke-width="0.95"/>
<text x="322" y="155.1" font-size="5" text-anchor="middle" fill="#222" stroke="#222" stroke-width="0.15">***</text>
<line x1="322.5" y1="160.5" x2="341.25" y2="160.5" stroke="#4a4a4a" stroke-width="0.95"/>
<text x="332" y="160.1" font-size="5" text-anchor="middle" fill="#222" stroke="#222" stroke-width="0.15">***</text>
<circle cx="301.75" cy="231.75" r="1.95" fill="#1c3c7c"/>
<circle cx="308.25" cy="245" r="1.95" fill="#1c3c7c"/>
<circle cx="301.25" cy="247.5" r="1.95" fill="#1c3c7c"/>
<circle cx="300" cy="250" r="1.95" fill="#1c3c7c"/>
<circle cx="301.25" cy="255" r="1.95" fill="#1c3c7c"/>
<circle cx="303" cy="255" r="1.95" fill="#1c3c7c"/>
<circle cx="305" cy="255" r="1.95" fill="#1c3c7c"/>
<circle cx="323.75" cy="239.25" r="1.95" fill="#5aab3c"/>
<circle cx="325.5" cy="248.75" r="1.95" fill="#5aab3c"/>
<circle cx="325.75" cy="255" r="1.95" fill="#5aab3c"/>
<circle cx="327.5" cy="255" r="1.95" fill="#5aab3c"/>
<circle cx="344.5" cy="164.5" r="1.95" fill="#efb622"/>
<circle cx="343.25" cy="168.75" r="1.95" fill="#efb622"/>
<circle cx="340" cy="198.75" r="1.95" fill="#efb622"/>
<circle cx="345.5" cy="214.5" r="1.95" fill="#efb622"/>
<circle cx="337.5" cy="234.5" r="1.95" fill="#efb622"/>
<circle cx="354.25" cy="207" r="1.95" fill="#b0132f"/>
<circle cx="359.5" cy="229.25" r="1.95" fill="#b0132f"/>
<circle cx="363.25" cy="227.5" r="1.95" fill="#b0132f"/>
<circle cx="355.5" cy="255" r="1.95" fill="#b0132f"/>
<circle cx="373" cy="220.25" r="1.95" fill="#e8932a"/>
<circle cx="376.5" cy="221" r="1.95" fill="#e8932a"/>
<circle cx="380" cy="222" r="1.95" fill="#e8932a"/>
<circle cx="373.75" cy="224.25" r="1.95" fill="#e8932a"/>
<circle cx="383.25" cy="230.5" r="1.95" fill="#e8932a"/>
<circle cx="399.4" cy="221.3" r="1.95" fill="#4d1b5f"/>
<circle cx="391.6" cy="230.2" r="1.95" fill="#4d1b5f"/>
<circle cx="398.3" cy="231" r="1.95" fill="#4d1b5f"/>
<circle cx="400.2" cy="231.5" r="1.95" fill="#4d1b5f"/>
<circle cx="401" cy="235.6" r="1.95" fill="#4d1b5f"/>
<circle cx="412.8" cy="222.9" r="1.95" fill="#d3168a"/>
<circle cx="411" cy="227.5" r="1.95" fill="#d3168a"/>
<circle cx="420.9" cy="236.1" r="1.95" fill="#d3168a"/>
<rect x="302.2" y="248.85" width="1.6" height="1.3" fill="#000"/>
<rect x="321.2" y="248.6" width="1.6" height="1.3" fill="#000"/>
<rect x="339.7" y="195.6" width="1.6" height="1.3" fill="#000"/>
<rect x="359.2" y="228.35" width="1.6" height="1.3" fill="#000"/>
<rect x="377.2" y="222.6" width="1.6" height="1.3" fill="#000"/>
<rect x="396.2" y="230.35" width="1.6" height="1.3" fill="#000"/>
<rect x="415" y="226.85" width="1.6" height="1.3" fill="#000"/>
<text x="409.1" y="156" font-size="5.6" text-anchor="middle" fill="#1a1a1a" stroke="#1a1a1a" stroke-width="0.12" textLength="32.3" lengthAdjust="spacingAndGlyphs">IMM vs others</text>
<text x="409.1" y="161.4" font-size="5" text-anchor="middle" fill="#222" stroke="#222" stroke-width="0.15">***</text>
<text x="435.7" y="162.95" font-size="5.4" text-anchor="middle" fill="#222" stroke="#222" stroke-width="0.1">G</text>
<text x="440.31" y="162.95" font-size="5.4" text-anchor="middle" fill="#4040c8" stroke="#4040c8" stroke-width="0.1">C</text>
<text x="444.93" y="162.95" font-size="5.4" text-anchor="middle" fill="#3d9a3d" stroke="#3d9a3d" stroke-width="0.1">A</text>
<text x="449.54" y="162.95" font-size="5.4" text-anchor="middle" fill="#3d9a3d" stroke="#3d9a3d" stroke-width="0.1">A</text>
<text x="454.15" y="162.95" font-size="5.4" text-anchor="middle" fill="#d83030" stroke="#d83030" stroke-width="0.1">T</text>
<text x="458.77" y="162.95" font-size="5.4" text-anchor="middle" fill="#3d9a3d" stroke="#3d9a3d" stroke-width="0.1">A</text>
<text x="463.38" y="162.95" font-size="5.4" text-anchor="middle" fill="#4040c8" stroke="#4040c8" stroke-width="0.1">C</text>
<text x="467.99" y="162.95" font-size="5.4" text-anchor="middle" fill="#d83030" stroke="#d83030" stroke-width="0.1">T</text>
<text x="472.61" y="162.95" font-size="5.4" text-anchor="middle" fill="#3d9a3d" stroke="#3d9a3d" stroke-width="0.1">A</text>
<text x="477.22" y="162.95" font-size="5.4" text-anchor="middle" fill="#4040c8" stroke="#4040c8" stroke-width="0.1">C</text>
<text x="481.83" y="162.95" font-size="5.4" text-anchor="middle" fill="#4040c8" stroke="#4040c8" stroke-width="0.1">C</text>
<text x="486.45" y="162.95" font-size="5.4" text-anchor="middle" fill="#d83030" stroke="#d83030" stroke-width="0.1">T</text>
<text x="491.06" y="162.95" font-size="5.4" text-anchor="middle" fill="#3d9a3d" stroke="#3d9a3d" stroke-width="0.1">A</text>
<text x="495.67" y="162.95" font-size="5.4" text-anchor="middle" fill="#3d9a3d" stroke="#3d9a3d" stroke-width="0.1">A</text>
<text x="500.29" y="162.95" font-size="5.4" text-anchor="middle" fill="#d83030" stroke="#d83030" stroke-width="0.1">T</text>
<text x="504.9" y="162.95" font-size="5.4" text-anchor="middle" fill="#4040c8" stroke="#4040c8" stroke-width="0.1">C</text>
<polyline points="432.5,182.93 432.9,181.49 433.3,179.09 433.7,175.77 434.1,172.13 434.5,169.22 434.9,168.1 435.3,169.22 435.7,172.13 436.1,175.77 436.5,179.09 436.9,181.49 437.3,182.93 437.7,183.64" fill="none" stroke="#5fb85f" stroke-width="0.72" stroke-linejoin="round"/>
<polyline points="444.9,183.71 445.3,183.1 445.7,181.88 446.1,179.84 446.5,177.02 446.9,173.93 447.3,171.45 447.7,170.48 448.1,171.39 448.5,173.73 448.9,176.46 449.3,178.46 449.7,178.93 450.1,177.62 450.5,174.93 450.9,171.8 451.3,169.47 451.7,168.96 452.1,170.53 452.5,173.57 452.9,177.04 453.3,180 453.7,182.04 454.1,183.21 454.5,183.76" fill="none" stroke="#5fb85f" stroke-width="0.72" stroke-linejoin="round"/>
<polyline points="457.3,183.71 457.7,183.06 458.1,181.7 458.5,179.33 458.9,175.88 459.3,171.84 459.7,168.3 460.1,166.48 460.5,167.11 460.9,169.93 461.3,173.88 461.7,177.72 462.1,180.66 462.5,182.49 462.9,183.45" fill="none" stroke="#5fb85f" stroke-width="0.72" stroke-linejoin="round"/>
<polyline points="470.5,183.62 470.9,182.87 471.3,181.36 471.7,178.84 472.1,175.36 472.5,171.53 472.9,168.48 473.3,167.3 473.7,168.48 474.1,171.53 474.5,175.36 474.9,178.84 475.3,181.36 475.7,182.87 476.1,183.62" fill="none" stroke="#5fb85f" stroke-width="0.72" stroke-linejoin="round"/>
<polyline points="488.5,183.62 488.9,182.87 489.3,181.36 489.7,178.84 490.1,175.36 490.5,171.53 490.9,168.48 491.3,167.3 491.7,168.47 492.1,171.53 492.5,175.33 492.9,178.74 493.3,181.04 493.7,182.02 494.1,181.67 494.5,180.06 494.9,177.36 495.3,174.12 495.7,171.24 496.1,169.76 496.5,170.28 496.9,172.57 497.3,175.78 497.7,178.91 498.1,181.3 498.5,182.79 498.9,183.57" fill="none" stroke="#5fb85f" stroke-width="0.72" stroke-linejoin="round"/>
<polyline points="440.5,183.45 440.9,182.54 441.3,180.88 441.7,178.34 442.1,175.2 442.5,172.21 442.9,170.35 443.3,170.35 443.7,172.21 444.1,175.2 444.5,178.34 444.9,180.88 445.3,182.54 445.7,183.45" fill="none" stroke="#5656d2" stroke-width="0.72" stroke-linejoin="round"/>
<polyline points="461.3,183.5 461.7,182.62 462.1,180.93 462.5,178.22 462.9,174.68 463.3,171.05 463.7,168.45 464.1,167.87 464.5,169.55 464.9,172.81 465.3,176.53 465.7,179.7 466.1,181.89 466.5,183.14 466.9,183.74" fill="none" stroke="#5656d2" stroke-width="0.72" stroke-linejoin="round"/>
<polyline points="474.9,183.57 475.3,182.74 475.7,181.08 476.1,178.31 476.5,174.47 476.9,170.26 477.3,166.89 477.7,165.6 478.1,166.89 478.5,170.25 478.9,174.44 479.3,178.19 479.7,180.73 480.1,181.8 480.5,181.41 480.9,179.61 481.3,176.61 481.7,173.01 482.1,169.81 482.5,168.17 482.9,168.74 483.3,171.29 483.7,174.86 484.1,178.33 484.5,180.99 484.9,182.65 485.3,183.51" fill="none" stroke="#5656d2" stroke-width="0.72" stroke-linejoin="round"/>
<polyline points="502.1,183.57 502.5,182.74 502.9,181.08 503.3,178.31 503.7,174.47 504.1,170.26 504.5,166.89 504.9,165.6 505.3,166.89 505.7,170.26 506.1,174.47 506.5,178.31 506.9,181.08 507.3,182.74 507.7,183.57" fill="none" stroke="#5656d2" stroke-width="0.72" stroke-linejoin="round"/>
<polyline points="435.3,183.54 435.7,182.81 436.1,181.54 436.5,179.69 436.9,177.52 437.3,175.62 437.7,174.64 438.1,174.98 438.5,176.49 438.9,178.61 439.3,180.68 439.7,182.25 440.1,183.24 440.5,183.75" fill="none" stroke="#2a2a2a" stroke-width="0.72" stroke-linejoin="round"/>
<polyline points="452.9,183.75 453.3,183.18 453.7,181.98 454.1,179.87 454.5,176.8 454.9,173.23 455.3,170.08 455.7,168.47 456.1,169.03 456.5,171.53 456.9,175.03 457.3,178.44 457.7,181.05 458.1,182.67 458.5,183.52" fill="none" stroke="#e04848" stroke-width="0.72" stroke-linejoin="round"/>
<polyline points="466.1,183.57 466.5,182.74 466.9,181.08 467.3,178.31 467.7,174.47 468.1,170.26 468.5,166.89 468.9,165.6 469.3,166.89 469.7,170.26 470.1,174.47 470.5,178.31 470.9,181.08 471.3,182.74 471.7,183.57" fill="none" stroke="#e04848" stroke-width="0.72" stroke-linejoin="round"/>
<polyline points="484.1,183.62 484.5,182.87 484.9,181.36 485.3,178.84 485.7,175.36 486.1,171.53 486.5,168.48 486.9,167.3 487.3,168.48 487.7,171.53 488.1,175.36 488.5,178.84 488.9,181.36 489.3,182.87 489.7,183.62" fill="none" stroke="#e04848" stroke-width="0.72" stroke-linejoin="round"/>
<polyline points="497.7,183.74 498.1,183.14 498.5,181.89 498.9,179.7 499.3,176.53 499.7,172.81 500.1,169.55 500.5,167.87 500.9,168.45 501.3,171.05 501.7,174.68 502.1,178.22 502.5,180.93 502.9,182.62 503.3,183.5" fill="none" stroke="#e04848" stroke-width="0.72" stroke-linejoin="round"/>
<polyline points="506.5,183.79 506.9,183.29 507.3,182.31 507.7,180.66 508.1,178.38 508.5,175.87 508.9,173.87 509.3,173.1 509.7,173.87" fill="none" stroke="#e04848" stroke-width="0.72" stroke-linejoin="round"/>
<line x1="432.5" y1="184.1" x2="510" y2="184.1" stroke="#8a8a8a" stroke-width="0.55"/>
<text x="432.5" y="190.9" font-size="5.55" fill="#111">14:73148094</text>
<text x="508.6" y="190.9" font-size="5.55" text-anchor="end" fill="#111">14:73147795</text>
<path d="M471.5 195.3A33.6 33.6 0 0 1 492.37 255.23L481.69 241.75A16.4 16.4 0 0 0 471.5 212.5Z" fill="#ebb824" stroke="#6a6a6a" stroke-width="0.65"/>
<path d="M492.37 255.23A33.6 33.6 0 1 1 471.5 195.3L471.5 212.5A16.4 16.4 0 1 0 481.69 241.75Z" fill="#f0cb5c" stroke="#6a6a6a" stroke-width="0.65"/>
<line x1="472.1" y1="184.1" x2="472.1" y2="212.5" stroke="#6a6a6a" stroke-width="0.5"/>
<text x="495.2" y="222.8" font-size="5.6" text-anchor="middle" fill="#333" stroke="#333" stroke-width="0.12">2</text>
<text x="447.3" y="238.9" font-size="5.6" text-anchor="middle" fill="#333" stroke="#333" stroke-width="0.12">3</text>
<text x="471" y="230.8" font-size="5.3" text-anchor="middle" fill="#222">circPSEN1</text>
<line x1="41.55" y1="301.25" x2="41.55" y2="402" stroke="#1a1a1a" stroke-width="1.45"/>
<line x1="37.9" y1="303.35" x2="41.5" y2="303.35" stroke="#111" stroke-width="1.05"/>
<text x="33.9" y="306" font-size="6.7" text-anchor="end" fill="#1a1a1a" stroke="#1a1a1a" stroke-width="0.1">200</text>
<line x1="37.9" y1="324.35" x2="41.5" y2="324.35" stroke="#111" stroke-width="1.05"/>
<text x="33.9" y="327" font-size="6.7" text-anchor="end" fill="#1a1a1a" stroke="#1a1a1a" stroke-width="0.1">150</text>
<line x1="37.9" y1="345.35" x2="41.5" y2="345.35" stroke="#111" stroke-width="1.05"/>
<text x="33.9" y="348" font-size="6.7" text-anchor="end" fill="#1a1a1a" stroke="#1a1a1a" stroke-width="0.1">100</text>
<line x1="37.9" y1="366.35" x2="41.5" y2="366.35" stroke="#111" stroke-width="1.05"/>
<text x="33.9" y="369" font-size="6.7" text-anchor="end" fill="#1a1a1a" stroke="#1a1a1a" stroke-width="0.1">50</text>
<line x1="37.9" y1="387.1" x2="41.5" y2="387.1" stroke="#111" stroke-width="1.05"/>
<text x="33.9" y="389.75" font-size="6.7" text-anchor="end" fill="#1a1a1a" stroke="#1a1a1a" stroke-width="0.1">0</text>
<text transform="translate(17.2 351.25) rotate(-90)" x="0" y="0" font-size="9.4" text-anchor="middle" fill="#111" stroke="#111" stroke-width="0.2" textLength="51" lengthAdjust="spacingAndGlyphs">Normalized counts</text>
<text x="52.5" y="411.8" font-size="6.6" text-anchor="middle" fill="#111" stroke="#111" stroke-width="0.18" textLength="21.9" lengthAdjust="spacingAndGlyphs">CD34+</text>
<text x="70.6" y="411.8" font-size="6.6" text-anchor="middle" fill="#111" stroke="#111" stroke-width="0.18" textLength="9.7" lengthAdjust="spacingAndGlyphs">DP</text>
<text x="89.1" y="411.8" font-size="6.6" text-anchor="middle" fill="#111" stroke="#111" stroke-width="0.18" textLength="12.7" lengthAdjust="spacingAndGlyphs">IMM</text>
<text x="107.4" y="411.8" font-size="6.6" text-anchor="middle" fill="#111" stroke="#111" stroke-width="0.18" textLength="15.9" lengthAdjust="spacingAndGlyphs">TLX3</text>
<text x="125.5" y="411.8" font-size="6.6" text-anchor="middle" fill="#111" stroke="#111" stroke-width="0.18" textLength="17.7" lengthAdjust="spacingAndGlyphs">HOXA</text>
<text x="143.7" y="411.8" font-size="6.6" text-anchor="middle" fill="#111" stroke="#111" stroke-width="0.18" textLength="14.4" lengthAdjust="spacingAndGlyphs">TLX1</text>
<text x="156" y="411.8" font-size="6.6" fill="#111" stroke="#111" stroke-width="0.18" textLength="11.4" lengthAdjust="spacingAndGlyphs">TAL-</text>
<text x="156" y="419.6" font-size="6.6" fill="#111" stroke="#111" stroke-width="0.18" textLength="13.6" lengthAdjust="spacingAndGlyphs">LMO</text>
<line x1="51.25" y1="297.5" x2="107.5" y2="297.5" stroke="#4a4a4a" stroke-width="0.95"/>
<text x="79.5" y="297.1" font-size="5" text-anchor="middle" fill="#222" stroke="#222" stroke-width="0.15">**</text>
<line x1="69.5" y1="302.5" x2="107.5" y2="302.5" stroke="#4a4a4a" stroke-width="0.95"/>
<text x="88" y="302.1" font-size="5" text-anchor="middle" fill="#222" stroke="#222" stroke-width="0.15">**</text>
<circle cx="47" cy="375" r="1.95" fill="#1c3c7c"/>
<circle cx="48.75" cy="377.5" r="1.95" fill="#1c3c7c"/>
<circle cx="55.5" cy="373.75" r="1.95" fill="#1c3c7c"/>
<circle cx="55.5" cy="377.5" r="1.95" fill="#1c3c7c"/>
<circle cx="47.5" cy="383.25" r="1.95" fill="#1c3c7c"/>
<circle cx="53.75" cy="384.5" r="1.95" fill="#1c3c7c"/>
<circle cx="56.25" cy="385" r="1.95" fill="#1c3c7c"/>
<circle cx="70.75" cy="385.75" r="1.95" fill="#5aab3c"/>
<circle cx="72.5" cy="385.75" r="1.95" fill="#5aab3c"/>
<circle cx="74.25" cy="385.75" r="1.95" fill="#5aab3c"/>
<circle cx="83.75" cy="331.75" r="1.95" fill="#efb622"/>
<circle cx="85" cy="382.5" r="1.95" fill="#efb622"/>
<circle cx="85.75" cy="386.25" r="1.95" fill="#efb622"/>
<circle cx="93" cy="382.5" r="1.95" fill="#efb622"/>
<circle cx="93" cy="385.75" r="1.95" fill="#efb622"/>
<circle cx="107" cy="305.75" r="1.95" fill="#b0132f"/>
<circle cx="107" cy="310" r="1.95" fill="#b0132f"/>
<circle cx="101.75" cy="332.5" r="1.95" fill="#b0132f"/>
<circle cx="110.75" cy="354.5" r="1.95" fill="#b0132f"/>
<circle cx="106.75" cy="383.75" r="1.95" fill="#b0132f"/>
<circle cx="120.5" cy="386.5" r="1.95" fill="#e8932a"/>
<circle cx="127" cy="383" r="1.95" fill="#e8932a"/>
<circle cx="127.5" cy="386.25" r="1.95" fill="#e8932a"/>
<circle cx="125.4" cy="385" r="1.95" fill="#e8932a"/>
<circle cx="128" cy="383.7" r="1.95" fill="#e8932a"/>
<circle cx="141" cy="373.7" r="1.95" fill="#4d1b5f"/>
<circle cx="141" cy="376.4" r="1.95" fill="#4d1b5f"/>
<circle cx="147.7" cy="377.5" r="1.95" fill="#4d1b5f"/>
<circle cx="143.4" cy="381.8" r="1.95" fill="#4d1b5f"/>
<circle cx="142.1" cy="384.5" r="1.95" fill="#4d1b5f"/>
<circle cx="163.1" cy="376.9" r="1.95" fill="#d3168a"/>
<circle cx="162.3" cy="385" r="1.95" fill="#d3168a"/>
<circle cx="163.9" cy="386.9" r="1.95" fill="#d3168a"/>
<circle cx="160.9" cy="386.4" r="1.95" fill="#d3168a"/>
<rect x="51.7" y="379.35" width="1.6" height="1.3" fill="#000"/>
<rect x="69.95" y="385.1" width="1.6" height="1.3" fill="#000"/>
<rect x="87.95" y="373.1" width="1.6" height="1.3" fill="#000"/>
<rect x="106.2" y="336.85" width="1.6" height="1.3" fill="#000"/>
<rect x="124.7" y="384.85" width="1.6" height="1.3" fill="#000"/>
<rect x="143.4" y="378.95" width="1.6" height="1.3" fill="#000"/>
<rect x="161.7" y="383.85" width="1.6" height="1.3" fill="#000"/>
<text x="153.7" y="297.6" font-size="5.6" text-anchor="middle" fill="#1a1a1a" stroke="#1a1a1a" stroke-width="0.12" textLength="34.4" lengthAdjust="spacingAndGlyphs">TLX3 vs others</text>
<text x="153.7" y="302.8" font-size="5" text-anchor="middle" fill="#222" stroke="#222" stroke-width="0.15">***</text>
<text x="184" y="304.25" font-size="5.4" text-anchor="middle" fill="#222" stroke="#222" stroke-width="0.1">G</text>
<text x="188.54" y="304.25" font-size="5.4" text-anchor="middle" fill="#222" stroke="#222" stroke-width="0.1">G</text>
<text x="193.08" y="304.25" font-size="5.4" text-anchor="middle" fill="#3d9a3d" stroke="#3d9a3d" stroke-width="0.1">A</text>
<text x="197.62" y="304.25" font-size="5.4" text-anchor="middle" fill="#222" stroke="#222" stroke-width="0.1">G</text>
<text x="202.16" y="304.25" font-size="5.4" text-anchor="middle" fill="#3d9a3d" stroke="#3d9a3d" stroke-width="0.1">A</text>
<text x="206.7" y="304.25" font-size="5.4" text-anchor="middle" fill="#3d9a3d" stroke="#3d9a3d" stroke-width="0.1">A</text>
<text x="211.24" y="304.25" font-size="5.4" text-anchor="middle" fill="#d83030" stroke="#d83030" stroke-width="0.1">T</text>
<text x="215.78" y="304.25" font-size="5.4" text-anchor="middle" fill="#4040c8" stroke="#4040c8" stroke-width="0.1">C</text>
<text x="220.32" y="304.25" font-size="5.4" text-anchor="middle" fill="#4040c8" stroke="#4040c8" stroke-width="0.1">C</text>
<text x="224.86" y="304.25" font-size="5.4" text-anchor="middle" fill="#d83030" stroke="#d83030" stroke-width="0.1">T</text>
<text x="229.4" y="304.25" font-size="5.4" text-anchor="middle" fill="#d83030" stroke="#d83030" stroke-width="0.1">T</text>
<text x="233.94" y="304.25" font-size="5.4" text-anchor="middle" fill="#4040c8" stroke="#4040c8" stroke-width="0.1">C</text>
<text x="238.48" y="304.25" font-size="5.4" text-anchor="middle" fill="#d83030" stroke="#d83030" stroke-width="0.1">T</text>
<text x="243.02" y="304.25" font-size="5.4" text-anchor="middle" fill="#4040c8" stroke="#4040c8" stroke-width="0.1">C</text>
<text x="247.56" y="304.25" font-size="5.4" text-anchor="middle" fill="#3d9a3d" stroke="#3d9a3d" stroke-width="0.1">A</text>
<text x="252.1" y="304.25" font-size="5.4" text-anchor="middle" fill="#4040c8" stroke="#4040c8" stroke-width="0.1">C</text>
<polyline points="191.8,325.35 192.2,324.8 192.6,323.7 193,321.85 193.4,319.3 193.8,316.5 194.2,314.26 194.6,313.4 195,314.26 195.4,316.5 195.8,319.3 196.2,321.85 196.6,323.7 197,324.8 197.4,325.35" fill="none" stroke="#5fb85f" stroke-width="0.72" stroke-linejoin="round"/>
<polyline points="200.6,325.05 201,324.15 201.4,322.5 201.8,319.99 202.2,316.87 202.6,313.89 203,312.05 203.4,312.03 203.8,313.84 204.2,316.69 204.6,319.49 205,321.31 205.4,321.69 205.8,320.65 206.2,318.67 206.6,316.54 207,315.17 207.4,315.19 207.8,316.61 208.2,318.9 208.6,321.3 209,323.24 209.4,324.51 209.8,325.2" fill="none" stroke="#5fb85f" stroke-width="0.72" stroke-linejoin="round"/>
<polyline points="245,325.08 245.4,324.33 245.8,323.07 246.2,321.33 246.6,319.42 247,317.89 247.4,317.3 247.8,317.89 248.2,319.42 248.6,321.33 249,323.07 249.4,324.33 249.8,325.08" fill="none" stroke="#5fb85f" stroke-width="0.72" stroke-linejoin="round"/>
<polyline points="212.6,325.33 213,324.7 213.4,323.4 213.8,321.12 214.2,317.8 214.6,313.93 215,310.52 215.4,308.78 215.8,309.38 216.2,312.08 216.6,315.87 217,319.52 217.4,322.24 217.8,323.76 218.2,324.16 218.6,323.65 219,322.47 219.4,320.97 219.8,319.62 220.2,318.93 220.6,319.17 221,320.25 221.4,321.77 221.8,323.25 222.2,324.38 222.6,325.08" fill="none" stroke="#5656d2" stroke-width="0.72" stroke-linejoin="round"/>
<polyline points="230.6,325.42 231,325.03 231.4,324.32 231.8,323.23 232.2,321.89 232.6,320.6 233,319.81 233.4,319.81 233.8,320.6 234.2,321.89 234.6,323.23 235,324.32 235.4,325.03 235.8,325.42" fill="none" stroke="#5656d2" stroke-width="0.72" stroke-linejoin="round"/>
<polyline points="239.8,325.39 240.2,324.88 240.6,323.82 241,321.95 241.4,319.24 241.8,316.07 242.2,313.29 242.6,311.86 243,312.36 243.4,314.57 243.8,317.67 244.2,320.69 244.6,323 245,324.44 245.4,325.19" fill="none" stroke="#5656d2" stroke-width="0.72" stroke-linejoin="round"/>
<polyline points="251,325.26 251.4,324.72 251.8,323.82 252.2,322.58 252.6,321.21 253,320.12 253.4,319.7 253.8,320.12 254.2,321.21 254.6,322.58 255,323.82 255.4,324.72 255.8,325.26" fill="none" stroke="#5656d2" stroke-width="0.72" stroke-linejoin="round"/>
<polyline points="182.2,325.34 182.6,324.75 183,323.51 183.4,321.33 183.8,318.17 184.2,314.48 184.6,311.24 185,309.57 185.4,310.15 185.8,312.72 186.2,316.3 186.6,319.7 187,322.09 187.4,323.04 187.8,322.47 188.2,320.42 188.6,317.21 189,313.56 189.4,310.63 189.8,309.5 190.2,310.63 190.6,313.58 191,317.27 191.4,320.63 191.8,323.06 192.2,324.51 192.6,325.24" fill="none" stroke="#2a2a2a" stroke-width="0.72" stroke-linejoin="round"/>
<polyline points="195.8,325.08 196.2,324.16 196.6,322.39 197,319.57 197.4,315.88 197.8,312.09 198.2,309.38 198.6,308.78 199,310.52 199.4,313.93 199.8,317.8 200.2,321.12 200.6,323.4 201,324.7 201.4,325.33" fill="none" stroke="#2a2a2a" stroke-width="0.72" stroke-linejoin="round"/>
<polyline points="207.8,325.41 208.2,324.91 208.6,323.81 209,321.79 209.4,318.71 209.8,314.9 210.2,311.26 210.6,309.01 211,309.01 211.4,311.26 211.8,314.9 212.2,318.71 212.6,321.79 213,323.81 213.4,324.91 213.8,325.41" fill="none" stroke="#e04848" stroke-width="0.72" stroke-linejoin="round"/>
<polyline points="223.4,325.19 223.8,324.44 224.2,323 224.6,320.69 225,317.67 225.4,314.57 225.8,312.36 226.2,311.86 226.6,313.29 227,316.07 227.4,319.24 227.8,321.95 228.2,323.82 228.6,324.88 229,325.39" fill="none" stroke="#e04848" stroke-width="0.72" stroke-linejoin="round"/>
<polyline points="235,325.13 235.4,324.33 235.8,322.87 236.2,320.64 236.6,317.88 237,315.25 237.4,313.62 237.8,313.62 238.2,315.25 238.6,317.88 239,320.64 239.4,322.87 239.8,324.33 240.2,325.13" fill="none" stroke="#e04848" stroke-width="0.72" stroke-linejoin="round"/>
<line x1="181.4" y1="325.7" x2="256.3" y2="325.7" stroke="#8a8a8a" stroke-width="0.55"/>
<text x="180.6" y="332.4" font-size="5.55" fill="#111">20:13567370</text>
<text x="256.3" y="332.4" font-size="5.55" text-anchor="end" fill="#111">20:13559008</text>
<path d="M218.6 337.7A33.2 33.2 0 0 1 249.8 382.26L234.2 376.58A16.6 16.6 0 0 0 218.6 354.3Z" fill="#c2524e" stroke="#6a6a6a" stroke-width="0.65"/>
<path d="M249.8 382.26A33.2 33.2 0 0 1 213.98 403.78L216.29 387.34A16.6 16.6 0 0 0 234.2 376.58Z" fill="#a50e2e" stroke="#6a6a6a" stroke-width="0.65"/>
<path d="M213.98 403.78A33.2 33.2 0 0 1 185.65 374.95L202.12 372.92A16.6 16.6 0 0 0 216.29 387.34Z" fill="#d8918a" stroke="#6a6a6a" stroke-width="0.65"/>
<path d="M185.63 374.83A33.2 33.2 0 0 1 218.6 337.7L218.6 354.3A16.6 16.6 0 0 0 202.12 372.87Z" fill="#edc7c1" stroke="#6a6a6a" stroke-width="0.65"/>
<line x1="218.5" y1="325.7" x2="218.5" y2="354.3" stroke="#6a6a6a" stroke-width="0.5"/>
<text x="238.5" y="358.7" font-size="5.6" text-anchor="middle" fill="#333" stroke="#333" stroke-width="0.12">5</text>
<text x="230.4" y="393.7" font-size="5.6" text-anchor="middle" fill="#333" stroke="#333" stroke-width="0.12">6</text>
<text x="200.2" y="390.2" font-size="5.6" text-anchor="middle" fill="#333" stroke="#333" stroke-width="0.12">7</text>
<text x="198.6" y="356" font-size="5.6" text-anchor="middle" fill="#333" stroke="#333" stroke-width="0.12">8</text>
<text x="218.1" y="369.9" font-size="5.3" text-anchor="middle" fill="#222">circTASP1</text>
<text x="218.1" y="376.1" font-size="5.3" text-anchor="middle" fill="#222">(5-8)</text>
<line x1="292.4" y1="301.25" x2="292.4" y2="402" stroke="#1a1a1a" stroke-width="1.45"/>
<line x1="288.4" y1="304.35" x2="292" y2="304.35" stroke="#111" stroke-width="1.05"/>
<text x="284.4" y="307" font-size="6.7" text-anchor="end" fill="#1a1a1a" stroke="#1a1a1a" stroke-width="0.1">40</text>
<line x1="288.4" y1="327.1" x2="292" y2="327.1" stroke="#111" stroke-width="1.05"/>
<text x="284.4" y="329.75" font-size="6.7" text-anchor="end" fill="#1a1a1a" stroke="#1a1a1a" stroke-width="0.1">30</text>
<line x1="288.4" y1="349.85" x2="292" y2="349.85" stroke="#111" stroke-width="1.05"/>
<text x="284.4" y="352.5" font-size="6.7" text-anchor="end" fill="#1a1a1a" stroke="#1a1a1a" stroke-width="0.1">20</text>
<line x1="288.4" y1="372.6" x2="292" y2="372.6" stroke="#111" stroke-width="1.05"/>
<text x="284.4" y="375.25" font-size="6.7" text-anchor="end" fill="#1a1a1a" stroke="#1a1a1a" stroke-width="0.1">10</text>
<line x1="288.4" y1="395.35" x2="292" y2="395.35" stroke="#111" stroke-width="1.05"/>
<text x="284.4" y="398" font-size="6.7" text-anchor="end" fill="#1a1a1a" stroke="#1a1a1a" stroke-width="0.1">0</text>
<text x="303.35" y="411.8" font-size="6.6" text-anchor="middle" fill="#111" stroke="#111" stroke-width="0.18" textLength="21.9" lengthAdjust="spacingAndGlyphs">CD34+</text>
<text x="322.45" y="411.8" font-size="6.6" text-anchor="middle" fill="#111" stroke="#111" stroke-width="0.18" textLength="9.7" lengthAdjust="spacingAndGlyphs">DP</text>
<text x="340.85" y="411.8" font-size="6.6" text-anchor="middle" fill="#111" stroke="#111" stroke-width="0.18" textLength="12.7" lengthAdjust="spacingAndGlyphs">IMM</text>
<text x="360.4" y="411.8" font-size="6.6" text-anchor="middle" fill="#111" stroke="#111" stroke-width="0.18" textLength="15.9" lengthAdjust="spacingAndGlyphs">TLX3</text>
<text x="378.35" y="411.8" font-size="6.6" text-anchor="middle" fill="#111" stroke="#111" stroke-width="0.18" textLength="17.7" lengthAdjust="spacingAndGlyphs">HOXA</text>
<text x="397.1" y="411.8" font-size="6.6" text-anchor="middle" fill="#111" stroke="#111" stroke-width="0.18" textLength="14.4" lengthAdjust="spacingAndGlyphs">TLX1</text>
<text x="409.5" y="411.8" font-size="6.6" fill="#111" stroke="#111" stroke-width="0.18" textLength="11.4" lengthAdjust="spacingAndGlyphs">TAL-</text>
<text x="409.5" y="419.6" font-size="6.6" fill="#111" stroke="#111" stroke-width="0.18" textLength="13.6" lengthAdjust="spacingAndGlyphs">LMO</text>
<line x1="303" y1="297.5" x2="360" y2="297.5" stroke="#4a4a4a" stroke-width="0.95"/>
<text x="331.75" y="297.1" font-size="5" text-anchor="middle" fill="#222" stroke="#222" stroke-width="0.15">*</text>
<line x1="323" y1="303.5" x2="360" y2="303.5" stroke="#4a4a4a" stroke-width="0.95"/>
<text x="341.25" y="303.1" font-size="5" text-anchor="middle" fill="#222" stroke="#222" stroke-width="0.15">***</text>
<circle cx="303.75" cy="313.75" r="1.95" fill="#1c3c7c"/>
<circle cx="301.75" cy="347" r="1.95" fill="#1c3c7c"/>
<circle cx="305" cy="356.75" r="1.95" fill="#1c3c7c"/>
<circle cx="297.5" cy="364.5" r="1.95" fill="#1c3c7c"/>
<circle cx="300" cy="366.75" r="1.95" fill="#1c3c7c"/>
<circle cx="306.25" cy="367.5" r="1.95" fill="#1c3c7c"/>
<circle cx="305.5" cy="374.25" r="1.95" fill="#1c3c7c"/>
<circle cx="305" cy="390" r="1.95" fill="#1c3c7c"/>
<circle cx="303.75" cy="395" r="1.95" fill="#1c3c7c"/>
<circle cx="325.5" cy="385" r="1.95" fill="#5aab3c"/>
<circle cx="316.75" cy="395" r="1.95" fill="#5aab3c"/>
<circle cx="325" cy="395" r="1.95" fill="#5aab3c"/>
<circle cx="338.25" cy="331" r="1.95" fill="#efb622"/>
<circle cx="340" cy="334.5" r="1.95" fill="#efb622"/>
<circle cx="335.5" cy="339.25" r="1.95" fill="#efb622"/>
<circle cx="344.5" cy="362" r="1.95" fill="#efb622"/>
<circle cx="345.5" cy="371" r="1.95" fill="#efb622"/>
<circle cx="360.5" cy="304.5" r="1.95" fill="#b0132f"/>
<circle cx="361" cy="306.5" r="1.95" fill="#b0132f"/>
<circle cx="364.25" cy="343.25" r="1.95" fill="#b0132f"/>
<circle cx="365" cy="348.75" r="1.95" fill="#b0132f"/>
<circle cx="355.5" cy="366.5" r="1.95" fill="#b0132f"/>
<circle cx="374.5" cy="342" r="1.95" fill="#e8932a"/>
<circle cx="377.5" cy="347.5" r="1.95" fill="#e8932a"/>
<circle cx="373" cy="349.5" r="1.95" fill="#e8932a"/>
<circle cx="383.25" cy="351.5" r="1.95" fill="#e8932a"/>
<circle cx="378.75" cy="368.75" r="1.95" fill="#e8932a"/>
<circle cx="402.1" cy="358.6" r="1.95" fill="#4d1b5f"/>
<circle cx="400.7" cy="364.8" r="1.95" fill="#4d1b5f"/>
<circle cx="394.8" cy="371" r="1.95" fill="#4d1b5f"/>
<circle cx="397" cy="370.2" r="1.95" fill="#4d1b5f"/>
<circle cx="398.3" cy="371.5" r="1.95" fill="#4d1b5f"/>
<circle cx="394.8" cy="379.1" r="1.95" fill="#4d1b5f"/>
<circle cx="419" cy="358.6" r="1.95" fill="#d3168a"/>
<circle cx="412.8" cy="368.9" r="1.95" fill="#d3168a"/>
<circle cx="411" cy="370.2" r="1.95" fill="#d3168a"/>
<circle cx="410.2" cy="371" r="1.95" fill="#d3168a"/>
<circle cx="417.7" cy="380.4" r="1.95" fill="#d3168a"/>
<rect x="302.45" y="363.6" width="1.6" height="1.3" fill="#000"/>
<rect x="321.2" y="391.85" width="1.6" height="1.3" fill="#000"/>
<rect x="339.95" y="346.85" width="1.6" height="1.3" fill="#000"/>
<rect x="358.7" y="333.1" width="1.6" height="1.3" fill="#000"/>
<rect x="377.2" y="351.35" width="1.6" height="1.3" fill="#000"/>
<rect x="396.7" y="369.55" width="1.6" height="1.3" fill="#000"/>
<rect x="414.7" y="369.05" width="1.6" height="1.3" fill="#000"/>
<text x="409.1" y="296.8" font-size="5.6" text-anchor="middle" fill="#1a1a1a" stroke="#1a1a1a" stroke-width="0.12" textLength="34.4" lengthAdjust="spacingAndGlyphs">TLX3 vs others</text>
<text x="409.1" y="302" font-size="5" text-anchor="middle" fill="#222" stroke="#222" stroke-width="0.15">***</text>
<text x="436.2" y="304.45" font-size="5.4" text-anchor="middle" fill="#3d9a3d" stroke="#3d9a3d" stroke-width="0.1">A</text>
<text x="440.82" y="304.45" font-size="5.4" text-anchor="middle" fill="#222" stroke="#222" stroke-width="0.1">G</text>
<text x="445.44" y="304.45" font-size="5.4" text-anchor="middle" fill="#3d9a3d" stroke="#3d9a3d" stroke-width="0.1">A</text>
<text x="450.06" y="304.45" font-size="5.4" text-anchor="middle" fill="#3d9a3d" stroke="#3d9a3d" stroke-width="0.1">A</text>
<text x="454.68" y="304.45" font-size="5.4" text-anchor="middle" fill="#222" stroke="#222" stroke-width="0.1">G</text>
<text x="459.3" y="304.45" font-size="5.4" text-anchor="middle" fill="#4040c8" stroke="#4040c8" stroke-width="0.1">C</text>
<text x="463.92" y="304.45" font-size="5.4" text-anchor="middle" fill="#d83030" stroke="#d83030" stroke-width="0.1">T</text>
<text x="468.54" y="304.45" font-size="5.4" text-anchor="middle" fill="#222" stroke="#222" stroke-width="0.1">G</text>
<text x="473.16" y="304.45" font-size="5.4" text-anchor="middle" fill="#222" stroke="#222" stroke-width="0.1">G</text>
<text x="477.78" y="304.45" font-size="5.4" text-anchor="middle" fill="#d83030" stroke="#d83030" stroke-width="0.1">T</text>
<text x="482.4" y="304.45" font-size="5.4" text-anchor="middle" fill="#d83030" stroke="#d83030" stroke-width="0.1">T</text>
<text x="487.02" y="304.45" font-size="5.4" text-anchor="middle" fill="#222" stroke="#222" stroke-width="0.1">G</text>
<text x="491.64" y="304.45" font-size="5.4" text-anchor="middle" fill="#3d9a3d" stroke="#3d9a3d" stroke-width="0.1">A</text>
<text x="496.26" y="304.45" font-size="5.4" text-anchor="middle" fill="#d83030" stroke="#d83030" stroke-width="0.1">T</text>
<text x="500.88" y="304.45" font-size="5.4" text-anchor="middle" fill="#222" stroke="#222" stroke-width="0.1">G</text>
<text x="505.5" y="304.45" font-size="5.4" text-anchor="middle" fill="#3d9a3d" stroke="#3d9a3d" stroke-width="0.1">A</text>
<polyline points="433.9,325.55 434.3,324.65 434.7,323 435.1,320.49 435.5,317.37 435.9,314.39 436.3,312.55 436.7,312.55 437.1,314.39 437.5,317.37 437.9,320.49 438.3,323 438.7,324.65 439.1,325.55" fill="none" stroke="#5fb85f" stroke-width="0.72" stroke-linejoin="round"/>
<polyline points="443.9,325.71 444.3,324.94 444.7,323.4 445.1,320.81 445.5,317.25 445.9,313.33 446.3,310.2 446.7,308.97 447.1,310.09 447.5,312.99 447.9,316.34 448.3,318.72 448.7,319.22 449.1,317.74 449.5,314.97 449.9,312.2 450.3,310.72 450.7,311.31 451.1,313.79 451.5,317.25 451.9,320.61 452.3,323.18 452.7,324.79 453.1,325.63" fill="none" stroke="#5fb85f" stroke-width="0.72" stroke-linejoin="round"/>
<polyline points="489.9,325.9 490.3,325.36 490.7,324.2 491.1,322.06 491.5,318.8 491.9,314.76 492.3,310.91 492.7,308.52 493.1,308.52 493.5,310.91 493.9,314.76 494.3,318.8 494.7,322.06 495.1,324.2 495.5,325.36 495.9,325.9" fill="none" stroke="#5fb85f" stroke-width="0.72" stroke-linejoin="round"/>
<polyline points="503.5,325.9 503.9,325.36 504.3,324.2 504.7,322.06 505.1,318.8 505.5,314.76 505.9,310.91 506.3,308.52 506.7,308.52 507.1,310.91 507.5,314.76 507.9,318.8 508.3,322.06 508.7,324.2 509.1,325.36 509.5,325.9" fill="none" stroke="#5fb85f" stroke-width="0.72" stroke-linejoin="round"/>
<polyline points="456.7,325.78 457.1,325.16 457.5,323.98 457.9,322.09 458.3,319.61 458.7,317.07 459.1,315.26 459.5,314.85 459.9,316.02 460.3,318.3 460.7,320.9 461.1,323.13 461.5,324.66 461.9,325.53 462.3,325.95" fill="none" stroke="#5656d2" stroke-width="0.72" stroke-linejoin="round"/>
<polyline points="439.1,325.81 439.5,325.24 439.9,324.14 440.3,322.38 440.7,320.08 441.1,317.71 441.5,316.02 441.9,315.65 442.3,316.74 442.7,318.86 443.1,321.27 443.5,323.34 443.9,324.77 444.3,325.58" fill="none" stroke="#2a2a2a" stroke-width="0.72" stroke-linejoin="round"/>
<polyline points="452.7,325.59 453.1,324.74 453.5,323.19 453.9,320.81 454.3,317.88 454.7,315.07 455.1,313.34 455.5,313.34 455.9,315.07 456.3,317.88 456.7,320.81 457.1,323.19 457.5,324.74 457.9,325.59" fill="none" stroke="#2a2a2a" stroke-width="0.72" stroke-linejoin="round"/>
<polyline points="465.9,325.88 466.3,325.32 466.7,324.11 467.1,321.87 467.5,318.47 467.9,314.25 468.3,310.23 468.7,307.74 469.1,307.74 469.5,310.23 469.9,314.25 470.3,318.45 470.7,321.79 471.1,323.83 471.5,324.56 471.9,324.07 472.3,322.35 472.7,319.47 473.1,315.84 473.5,312.35 473.9,310.19 474.3,310.19 474.7,312.36 475.1,315.84 475.5,319.5 475.9,322.45 476.3,324.38 476.7,325.44 477.1,325.92" fill="none" stroke="#2a2a2a" stroke-width="0.72" stroke-linejoin="round"/>
<polyline points="485.1,325.8 485.5,325.14 485.9,323.76 486.3,321.35 486.7,317.84 487.1,313.73 487.5,310.13 487.9,308.28 488.3,308.92 488.7,311.79 489.1,315.8 489.5,319.71 489.9,322.7 490.3,324.57 490.7,325.54" fill="none" stroke="#2a2a2a" stroke-width="0.72" stroke-linejoin="round"/>
<polyline points="498.3,325.73 498.7,325 499.1,323.54 499.5,321.1 499.9,317.72 500.3,314.01 500.7,311.04 501.1,309.9 501.5,311.04 501.9,314.01 502.3,317.72 502.7,321.1 503.1,323.54 503.5,325 503.9,325.73" fill="none" stroke="#2a2a2a" stroke-width="0.72" stroke-linejoin="round"/>
<polyline points="461.1,325.84 461.5,325.24 461.9,323.99 462.3,321.8 462.7,318.63 463.1,314.91 463.5,311.65 463.9,309.97 464.3,310.55 464.7,313.15 465.1,316.78 465.5,320.32 465.9,323.03 466.3,324.72 466.7,325.6" fill="none" stroke="#e04848" stroke-width="0.72" stroke-linejoin="round"/>
<polyline points="475.9,325.94 476.3,325.54 476.7,324.73 477.1,323.38 477.5,321.52 477.9,319.47 478.3,317.83 478.7,317.2 479.1,317.82 479.5,319.43 479.9,321.38 480.3,322.98 480.7,323.71 481.1,323.27 481.5,321.59 481.9,318.88 482.3,315.78 482.7,313.27 483.1,312.3 483.5,313.27 483.9,315.8 484.3,318.97 484.7,321.85 485.1,323.93 485.5,325.18 485.9,325.8" fill="none" stroke="#e04848" stroke-width="0.72" stroke-linejoin="round"/>
<polyline points="493.9,325.8 494.3,325.18 494.7,323.93 495.1,321.85 495.5,318.97 495.9,315.8 496.3,313.27 496.7,312.3 497.1,313.27 497.5,315.8 497.9,318.97 498.3,321.85 498.7,323.93 499.1,325.18 499.5,325.8" fill="none" stroke="#e04848" stroke-width="0.72" stroke-linejoin="round"/>
<line x1="433.5" y1="326.2" x2="509.5" y2="326.2" stroke="#8a8a8a" stroke-width="0.55"/>
<text x="433.8" y="332.7" font-size="5.55" fill="#111">21:29329693</text>
<text x="509.3" y="332.7" font-size="5.55" text-anchor="end" fill="#111">21:29331221</text>
<path d="M471.7 338.5A33 33 0 0 1 499.75 354.11L485.47 362.96A16.2 16.2 0 0 0 471.7 355.3Z" fill="#c2524e" stroke="#6a6a6a" stroke-width="0.65"/>
<path d="M499.75 354.11A33 33 0 1 1 450.49 346.22L461.29 359.09A16.2 16.2 0 1 0 485.47 362.96Z" fill="#a50e2e" stroke="#6a6a6a" stroke-width="0.65"/>
<path d="M450.49 346.22A33 33 0 0 1 471.7 338.5L471.7 355.3A16.2 16.2 0 0 0 461.29 359.09Z" fill="#d8918a" stroke="#6a6a6a" stroke-width="0.65"/>
<line x1="472.1" y1="326.2" x2="472.1" y2="355.3" stroke="#6a6a6a" stroke-width="0.5"/>
<text x="483.1" y="352.5" font-size="5.6" text-anchor="middle" fill="#333" stroke="#333" stroke-width="0.12">2</text>
<text x="468.3" y="398.3" font-size="5.6" text-anchor="middle" fill="#333" stroke="#333" stroke-width="0.12">3</text>
<text x="462.7" y="350.7" font-size="5.6" text-anchor="middle" fill="#333" stroke="#333" stroke-width="0.12">4</text>
<text x="471.2" y="373.4" font-size="5.3" text-anchor="middle" fill="#222">circBACH1</text>
<line x1="41.55" y1="440.5" x2="41.55" y2="542" stroke="#1a1a1a" stroke-width="1.45"/>
<line x1="37.9" y1="471.35" x2="41.5" y2="471.35" stroke="#111" stroke-width="1.05"/>
<text x="33.9" y="474" font-size="6.7" text-anchor="end" fill="#1a1a1a" stroke="#1a1a1a" stroke-width="0.1">100</text>
<line x1="37.9" y1="513.85" x2="41.5" y2="513.85" stroke="#111" stroke-width="1.05"/>
<text x="33.9" y="516.5" font-size="6.7" text-anchor="end" fill="#1a1a1a" stroke="#1a1a1a" stroke-width="0.1">50</text>
<text transform="translate(17.2 491.25) rotate(-90)" x="0" y="0" font-size="9.4" text-anchor="middle" fill="#111" stroke="#111" stroke-width="0.2" textLength="51" lengthAdjust="spacingAndGlyphs">Normalized counts</text>
<text x="52.5" y="551.6" font-size="6.6" text-anchor="middle" fill="#111" stroke="#111" stroke-width="0.18" textLength="21.9" lengthAdjust="spacingAndGlyphs">CD34+</text>
<text x="70.6" y="551.6" font-size="6.6" text-anchor="middle" fill="#111" stroke="#111" stroke-width="0.18" textLength="9.7" lengthAdjust="spacingAndGlyphs">DP</text>
<text x="89.1" y="551.6" font-size="6.6" text-anchor="middle" fill="#111" stroke="#111" stroke-width="0.18" textLength="12.7" lengthAdjust="spacingAndGlyphs">IMM</text>
<text x="107.4" y="551.6" font-size="6.6" text-anchor="middle" fill="#111" stroke="#111" stroke-width="0.18" textLength="15.9" lengthAdjust="spacingAndGlyphs">TLX3</text>
<text x="125.5" y="551.6" font-size="6.6" text-anchor="middle" fill="#111" stroke="#111" stroke-width="0.18" textLength="17.7" lengthAdjust="spacingAndGlyphs">HOXA</text>
<text x="143.7" y="551.6" font-size="6.6" text-anchor="middle" fill="#111" stroke="#111" stroke-width="0.18" textLength="14.4" lengthAdjust="spacingAndGlyphs">TLX1</text>
<text x="156" y="551.6" font-size="6.6" fill="#111" stroke="#111" stroke-width="0.18" textLength="11.4" lengthAdjust="spacingAndGlyphs">TAL-</text>
<text x="156" y="559.4" font-size="6.6" fill="#111" stroke="#111" stroke-width="0.18" textLength="13.6" lengthAdjust="spacingAndGlyphs">LMO</text>
<line x1="51.25" y1="436.5" x2="107.5" y2="436.5" stroke="#4a4a4a" stroke-width="0.95"/>
<text x="79.5" y="436.1" font-size="5" text-anchor="middle" fill="#222" stroke="#222" stroke-width="0.15">***</text>
<line x1="69.5" y1="442.5" x2="107.5" y2="442.5" stroke="#4a4a4a" stroke-width="0.95"/>
<text x="88" y="442.1" font-size="5" text-anchor="middle" fill="#222" stroke="#222" stroke-width="0.15">***</text>
<circle cx="48" cy="495" r="1.95" fill="#1c3c7c"/>
<circle cx="56.25" cy="502.5" r="1.95" fill="#1c3c7c"/>
<circle cx="49.5" cy="517.5" r="1.95" fill="#1c3c7c"/>
<circle cx="51.75" cy="518.75" r="1.95" fill="#1c3c7c"/>
<circle cx="54.5" cy="526.25" r="1.95" fill="#1c3c7c"/>
<circle cx="52.5" cy="527" r="1.95" fill="#1c3c7c"/>
<circle cx="50.5" cy="528" r="1.95" fill="#1c3c7c"/>
<circle cx="56.25" cy="533.75" r="1.95" fill="#1c3c7c"/>
<circle cx="49.5" cy="535.75" r="1.95" fill="#1c3c7c"/>
<circle cx="65.75" cy="528.75" r="1.95" fill="#5aab3c"/>
<circle cx="69.25" cy="533" r="1.95" fill="#5aab3c"/>
<circle cx="75.5" cy="535.75" r="1.95" fill="#5aab3c"/>
<circle cx="70.75" cy="537.5" r="1.95" fill="#5aab3c"/>
<circle cx="92.5" cy="475.5" r="1.95" fill="#efb622"/>
<circle cx="86.75" cy="494" r="1.95" fill="#efb622"/>
<circle cx="83.75" cy="504" r="1.95" fill="#efb622"/>
<circle cx="87" cy="509.25" r="1.95" fill="#efb622"/>
<circle cx="88.25" cy="518.25" r="1.95" fill="#efb622"/>
<circle cx="108" cy="445" r="1.95" fill="#b0132f"/>
<circle cx="106.25" cy="472.5" r="1.95" fill="#b0132f"/>
<circle cx="110.75" cy="488.75" r="1.95" fill="#b0132f"/>
<circle cx="110.25" cy="492" r="1.95" fill="#b0132f"/>
<circle cx="106.75" cy="498.75" r="1.95" fill="#b0132f"/>
<circle cx="130.2" cy="492.9" r="1.95" fill="#e8932a"/>
<circle cx="122.2" cy="504.4" r="1.95" fill="#e8932a"/>
<circle cx="124.6" cy="515.7" r="1.95" fill="#e8932a"/>
<circle cx="130.2" cy="521.1" r="1.95" fill="#e8932a"/>
<circle cx="125.4" cy="525.4" r="1.95" fill="#e8932a"/>
<circle cx="147.7" cy="469.4" r="1.95" fill="#4d1b5f"/>
<circle cx="143.7" cy="478" r="1.95" fill="#4d1b5f"/>
<circle cx="143.7" cy="497.2" r="1.95" fill="#4d1b5f"/>
<circle cx="145" cy="501.7" r="1.95" fill="#4d1b5f"/>
<circle cx="140.2" cy="507.1" r="1.95" fill="#4d1b5f"/>
<circle cx="161.7" cy="482.1" r="1.95" fill="#d3168a"/>
<circle cx="160.4" cy="498.2" r="1.95" fill="#d3168a"/>
<circle cx="157.7" cy="501.2" r="1.95" fill="#d3168a"/>
<circle cx="159" cy="505" r="1.95" fill="#d3168a"/>
<circle cx="161.2" cy="510.6" r="1.95" fill="#d3168a"/>
<rect x="51.7" y="519.35" width="1.6" height="1.3" fill="#000"/>
<rect x="69.95" y="533.1" width="1.6" height="1.3" fill="#000"/>
<rect x="87.95" y="499.35" width="1.6" height="1.3" fill="#000"/>
<rect x="106.2" y="478.85" width="1.6" height="1.3" fill="#000"/>
<rect x="124.2" y="511.35" width="1.6" height="1.3" fill="#000"/>
<rect x="142.9" y="489.85" width="1.6" height="1.3" fill="#000"/>
<rect x="161.2" y="498.35" width="1.6" height="1.3" fill="#000"/>
<text x="154.2" y="437.2" font-size="5.6" text-anchor="middle" fill="#1a1a1a" stroke="#1a1a1a" stroke-width="0.12" textLength="34.4" lengthAdjust="spacingAndGlyphs">TLX3 vs others</text>
<text x="154.2" y="442.4" font-size="5" text-anchor="middle" fill="#222" stroke="#222" stroke-width="0.15">*</text>
<text x="184.2" y="445.15" font-size="5.4" text-anchor="middle" fill="#222" stroke="#222" stroke-width="0.1">G</text>
<text x="189.1" y="445.15" font-size="5.4" text-anchor="middle" fill="#3d9a3d" stroke="#3d9a3d" stroke-width="0.1">A</text>
<text x="193.7" y="445.15" font-size="5.4" text-anchor="middle" fill="#3d9a3d" stroke="#3d9a3d" stroke-width="0.1">A</text>
<text x="198.1" y="445.15" font-size="5.4" text-anchor="middle" fill="#3d9a3d" stroke="#3d9a3d" stroke-width="0.1">A</text>
<text x="202.2" y="445.15" font-size="5.4" text-anchor="middle" fill="#d83030" stroke="#d83030" stroke-width="0.1">T</text>
<text x="206.2" y="445.15" font-size="5.4" text-anchor="middle" fill="#222" stroke="#222" stroke-width="0.1">G</text>
<text x="210.7" y="445.15" font-size="5.4" text-anchor="middle" fill="#d83030" stroke="#d83030" stroke-width="0.1">T</text>
<text x="215.2" y="445.15" font-size="5.4" text-anchor="middle" fill="#4040c8" stroke="#4040c8" stroke-width="0.1">C</text>
<text x="219.8" y="445.15" font-size="5.4" text-anchor="middle" fill="#4040c8" stroke="#4040c8" stroke-width="0.1">C</text>
<text x="226.3" y="445.15" font-size="5.4" text-anchor="middle" fill="#d83030" stroke="#d83030" stroke-width="0.1">T</text>
<text x="230.8" y="445.15" font-size="5.4" text-anchor="middle" fill="#3d9a3d" stroke="#3d9a3d" stroke-width="0.1">A</text>
<text x="234.8" y="445.15" font-size="5.4" text-anchor="middle" fill="#d83030" stroke="#d83030" stroke-width="0.1">T</text>
<text x="238.9" y="445.15" font-size="5.4" text-anchor="middle" fill="#3d9a3d" stroke="#3d9a3d" stroke-width="0.1">A</text>
<text x="243.3" y="445.15" font-size="5.4" text-anchor="middle" fill="#222" stroke="#222" stroke-width="0.1">G</text>
<text x="247.9" y="445.15" font-size="5.4" text-anchor="middle" fill="#3d9a3d" stroke="#3d9a3d" stroke-width="0.1">A</text>
<text x="252" y="445.15" font-size="5.4" text-anchor="middle" fill="#222" stroke="#222" stroke-width="0.1">G</text>
<polyline points="187.1,466.66 187.5,465.82 187.9,464.14 188.3,461.31 188.7,457.42 189.1,453.14 189.5,449.71 189.9,448.38 190.3,449.66 190.7,452.95 191.1,456.9 191.5,460.09 191.9,461.61 192.3,461.3 192.7,459.67 193.1,457.68 193.5,456.34 193.9,456.38 194.3,457.84 194.7,460.14 195.1,462.46 195.5,464.06 195.9,464.52 196.3,463.67 196.7,461.63 197.1,458.82 197.5,456.06 197.9,454.33 198.3,454.33 198.7,456.07 199.1,458.88 199.5,461.81 199.9,464.19 200.3,465.74 200.7,466.59" fill="none" stroke="#5fb85f" stroke-width="0.72" stroke-linejoin="round"/>
<polyline points="227.1,466.8 227.5,466.18 227.9,464.93 228.3,462.85 228.7,459.97 229.1,456.8 229.5,454.27 229.9,453.3 230.3,454.27 230.7,456.8 231.1,459.97 231.5,462.85 231.9,464.93 232.3,466.18 232.7,466.8" fill="none" stroke="#5fb85f" stroke-width="0.72" stroke-linejoin="round"/>
<polyline points="235.9,466.84 236.3,466.31 236.7,465.29 237.1,463.67 237.5,461.54 237.9,459.35 238.3,457.79 238.7,457.44 239.1,458.45 239.5,460.41 239.9,462.65 240.3,464.56 240.7,465.87 241.1,466.62" fill="none" stroke="#5fb85f" stroke-width="0.72" stroke-linejoin="round"/>
<polyline points="245.1,466.8 245.5,466.18 245.9,464.93 246.3,462.85 246.7,459.97 247.1,456.8 247.5,454.27 247.9,453.3 248.3,454.27 248.7,456.8 249.1,459.97 249.5,462.85 249.9,464.93 250.3,466.18 250.7,466.8" fill="none" stroke="#5fb85f" stroke-width="0.72" stroke-linejoin="round"/>
<polyline points="213.5,466.58 213.9,465.77 214.3,464.34 214.7,462.27 215.1,459.86 215.5,457.74 215.9,456.65 216.3,457.02 216.7,458.69 217.1,461.01 217.5,463.16 217.9,464.53 218.3,464.78 218.7,463.8 219.1,461.68 219.5,458.84 219.9,456.06 220.3,454.33 220.7,454.34 221.1,456.07 221.5,458.88 221.9,461.81 222.3,464.19 222.7,465.74 223.1,466.59" fill="none" stroke="#5656d2" stroke-width="0.72" stroke-linejoin="round"/>
<polyline points="181.9,466.66 182.3,466.03 182.7,465.04 183.1,463.73 183.5,462.4 183.9,461.44 184.3,461.23 184.7,461.84 185.1,463.04 185.5,464.41 185.9,465.58 186.3,466.39 186.7,466.85" fill="none" stroke="#2a2a2a" stroke-width="0.72" stroke-linejoin="round"/>
<polyline points="203.5,466.5 203.9,465.47 204.3,463.48 204.7,460.32 205.1,456.17 205.5,451.91 205.9,448.86 206.3,448.19 206.7,450.15 207.1,453.97 207.5,458.32 207.9,462.05 208.3,464.62 208.7,466.08 209.1,466.78" fill="none" stroke="#2a2a2a" stroke-width="0.72" stroke-linejoin="round"/>
<polyline points="240.3,466.9 240.7,466.46 241.1,465.6 241.5,464.24 241.9,462.46 242.3,460.63 242.7,459.33 243.1,459.04 243.5,459.88 243.9,461.52 244.3,463.39 244.7,464.99 245.1,466.09 245.5,466.72" fill="none" stroke="#2a2a2a" stroke-width="0.72" stroke-linejoin="round"/>
<polyline points="249.9,466.61 250.3,465.8 250.7,464.3 251.1,462.02 251.5,459.19 251.9,456.5 252.3,454.83 252.7,454.83 253.1,456.5 253.5,459.19 253.9,462.02 254.3,464.3 254.7,465.8 255.1,466.61" fill="none" stroke="#2a2a2a" stroke-width="0.72" stroke-linejoin="round"/>
<polyline points="199.5,466.69 199.9,465.94 200.3,464.5 200.7,462.19 201.1,459.17 201.5,456.07 201.9,453.86 202.3,453.36 202.7,454.79 203.1,457.57 203.5,460.74 203.9,463.45 204.3,465.32 204.7,466.38 205.1,466.89" fill="none" stroke="#e04848" stroke-width="0.72" stroke-linejoin="round"/>
<polyline points="207.9,466.92 208.3,466.48 208.7,465.6 209.1,464.13 209.5,462.1 209.9,459.87 210.3,458.09 210.7,457.4 211.1,458.09 211.5,459.87 211.9,462.1 212.3,464.13 212.7,465.6 213.1,466.48 213.5,466.92" fill="none" stroke="#e04848" stroke-width="0.72" stroke-linejoin="round"/>
<polyline points="222.7,466.83 223.1,466.24 223.5,465.06 223.9,463.1 224.3,460.38 224.7,457.4 225.1,455.02 225.5,454.1 225.9,455.02 226.3,457.4 226.7,460.38 227.1,463.1 227.5,465.06 227.9,466.24 228.3,466.83" fill="none" stroke="#e04848" stroke-width="0.72" stroke-linejoin="round"/>
<polyline points="231.9,466.55 232.3,465.65 232.7,464 233.1,461.49 233.5,458.37 233.9,455.39 234.3,453.55 234.7,453.55 235.1,455.39 235.5,458.37 235.9,461.49 236.3,464 236.7,465.65 237.1,466.55" fill="none" stroke="#e04848" stroke-width="0.72" stroke-linejoin="round"/>
<line x1="181.9" y1="467.2" x2="256.3" y2="467.2" stroke="#8a8a8a" stroke-width="0.55"/>
<text x="178.3" y="474.4" font-size="5.55" fill="#111">11:130261929</text>
<text x="257.9" y="474.4" font-size="5.55" text-anchor="end" fill="#111">11:130260856</text>
<path d="M184.7 513.9a33.6 33.6 0 1 0 67.2 0a33.6 33.6 0 1 0 -67.2 0ZM201.5 513.9a16.8 16.8 0 1 0 33.6 0a16.8 16.8 0 1 0 -33.6 0Z" fill="#a50e2e" fill-rule="evenodd" stroke="#6a6a6a" stroke-width="0.65"/>
<line x1="218.5" y1="467.2" x2="218.5" y2="497.1" stroke="#6a6a6a" stroke-width="0.5"/>
<text x="218.3" y="540.1" font-size="5.6" text-anchor="middle" fill="#333" stroke="#333" stroke-width="0.12">2</text>
<text x="217.8" y="515.8" font-size="5.3" text-anchor="middle" fill="#222">circZBTB44</text>
<line x1="292.4" y1="441.25" x2="292.4" y2="542" stroke="#1a1a1a" stroke-width="1.45"/>
<line x1="288.4" y1="468.1" x2="292" y2="468.1" stroke="#111" stroke-width="1.05"/>
<text x="284.4" y="470.75" font-size="6.7" text-anchor="end" fill="#1a1a1a" stroke="#1a1a1a" stroke-width="0.1">40</text>
<line x1="288.4" y1="503.1" x2="292" y2="503.1" stroke="#111" stroke-width="1.05"/>
<text x="284.4" y="505.75" font-size="6.7" text-anchor="end" fill="#1a1a1a" stroke="#1a1a1a" stroke-width="0.1">20</text>
<line x1="288.4" y1="537.85" x2="292" y2="537.85" stroke="#111" stroke-width="1.05"/>
<text x="284.4" y="540.5" font-size="6.7" text-anchor="end" fill="#1a1a1a" stroke="#1a1a1a" stroke-width="0.1">0</text>
<text x="303.35" y="551.6" font-size="6.6" text-anchor="middle" fill="#111" stroke="#111" stroke-width="0.18" textLength="21.9" lengthAdjust="spacingAndGlyphs">CD34+</text>
<text x="322.45" y="551.6" font-size="6.6" text-anchor="middle" fill="#111" stroke="#111" stroke-width="0.18" textLength="9.7" lengthAdjust="spacingAndGlyphs">DP</text>
<text x="340.85" y="551.6" font-size="6.6" text-anchor="middle" fill="#111" stroke="#111" stroke-width="0.18" textLength="12.7" lengthAdjust="spacingAndGlyphs">IMM</text>
<text x="360.4" y="551.6" font-size="6.6" text-anchor="middle" fill="#111" stroke="#111" stroke-width="0.18" textLength="15.9" lengthAdjust="spacingAndGlyphs">TLX3</text>
<text x="378.35" y="551.6" font-size="6.6" text-anchor="middle" fill="#111" stroke="#111" stroke-width="0.18" textLength="17.7" lengthAdjust="spacingAndGlyphs">HOXA</text>
<text x="397.1" y="551.6" font-size="6.6" text-anchor="middle" fill="#111" stroke="#111" stroke-width="0.18" textLength="14.4" lengthAdjust="spacingAndGlyphs">TLX1</text>
<text x="409.5" y="551.6" font-size="6.6" fill="#111" stroke="#111" stroke-width="0.18" textLength="11.4" lengthAdjust="spacingAndGlyphs">TAL-</text>
<text x="409.5" y="559.4" font-size="6.6" fill="#111" stroke="#111" stroke-width="0.18" textLength="13.6" lengthAdjust="spacingAndGlyphs">LMO</text>
<line x1="303" y1="436.5" x2="377.5" y2="436.5" stroke="#4a4a4a" stroke-width="0.95"/>
<text x="340" y="436.1" font-size="5" text-anchor="middle" fill="#222" stroke="#222" stroke-width="0.15">***</text>
<line x1="322" y1="441.5" x2="377.5" y2="441.5" stroke="#4a4a4a" stroke-width="0.95"/>
<text x="349.25" y="441.1" font-size="5" text-anchor="middle" fill="#222" stroke="#222" stroke-width="0.15">***</text>
<circle cx="303.75" cy="516.75" r="1.95" fill="#1c3c7c"/>
<circle cx="303.75" cy="523" r="1.95" fill="#1c3c7c"/>
<circle cx="302.5" cy="528" r="1.95" fill="#1c3c7c"/>
<circle cx="302.5" cy="530" r="1.95" fill="#1c3c7c"/>
<circle cx="299.25" cy="534.25" r="1.95" fill="#1c3c7c"/>
<circle cx="305" cy="535" r="1.95" fill="#1c3c7c"/>
<circle cx="308" cy="534.25" r="1.95" fill="#1c3c7c"/>
<circle cx="306.25" cy="535" r="1.95" fill="#1c3c7c"/>
<circle cx="302" cy="538" r="1.95" fill="#1c3c7c"/>
<circle cx="321.25" cy="528" r="1.95" fill="#5aab3c"/>
<circle cx="317" cy="533" r="1.95" fill="#5aab3c"/>
<circle cx="323.25" cy="533" r="1.95" fill="#5aab3c"/>
<circle cx="325.75" cy="530.5" r="1.95" fill="#5aab3c"/>
<circle cx="337.5" cy="512.5" r="1.95" fill="#efb622"/>
<circle cx="345" cy="509.5" r="1.95" fill="#efb622"/>
<circle cx="342.5" cy="514.25" r="1.95" fill="#efb622"/>
<circle cx="345" cy="522" r="1.95" fill="#efb622"/>
<circle cx="340" cy="526.75" r="1.95" fill="#efb622"/>
<circle cx="357" cy="527" r="1.95" fill="#b0132f"/>
<circle cx="363.25" cy="520" r="1.95" fill="#b0132f"/>
<circle cx="355.5" cy="532.5" r="1.95" fill="#b0132f"/>
<circle cx="360" cy="530.75" r="1.95" fill="#b0132f"/>
<circle cx="357.5" cy="532.5" r="1.95" fill="#b0132f"/>
<circle cx="375.5" cy="445" r="1.95" fill="#e8932a"/>
<circle cx="378" cy="449.25" r="1.95" fill="#e8932a"/>
<circle cx="373" cy="476.75" r="1.95" fill="#e8932a"/>
<circle cx="377.5" cy="518.75" r="1.95" fill="#e8932a"/>
<circle cx="374.5" cy="523.25" r="1.95" fill="#e8932a"/>
<circle cx="392.1" cy="515.7" r="1.95" fill="#4d1b5f"/>
<circle cx="392.7" cy="525.4" r="1.95" fill="#4d1b5f"/>
<circle cx="398" cy="525.4" r="1.95" fill="#4d1b5f"/>
<circle cx="394.8" cy="530" r="1.95" fill="#4d1b5f"/>
<circle cx="401" cy="533.2" r="1.95" fill="#4d1b5f"/>
<circle cx="421.2" cy="470" r="1.95" fill="#d3168a"/>
<circle cx="419.8" cy="500.4" r="1.95" fill="#d3168a"/>
<circle cx="415.8" cy="502.3" r="1.95" fill="#d3168a"/>
<circle cx="414.5" cy="503.9" r="1.95" fill="#d3168a"/>
<circle cx="419" cy="530.8" r="1.95" fill="#d3168a"/>
<rect x="302.2" y="530.6" width="1.6" height="1.3" fill="#000"/>
<rect x="321.2" y="530.6" width="1.6" height="1.3" fill="#000"/>
<rect x="339.95" y="516.35" width="1.6" height="1.3" fill="#000"/>
<rect x="359.2" y="528.85" width="1.6" height="1.3" fill="#000"/>
<rect x="377.2" y="482.35" width="1.6" height="1.3" fill="#000"/>
<rect x="395.2" y="524.35" width="1.6" height="1.3" fill="#000"/>
<rect x="415.5" y="501.05" width="1.6" height="1.3" fill="#000"/>
<text x="409.1" y="437.2" font-size="5.6" text-anchor="middle" fill="#1a1a1a" stroke="#1a1a1a" stroke-width="0.12" textLength="36.8" lengthAdjust="spacingAndGlyphs">HOXA vs others</text>
<text x="409.1" y="442.4" font-size="5" text-anchor="middle" fill="#222" stroke="#222" stroke-width="0.15">***</text>
<text x="436.5" y="444.65" font-size="5.4" text-anchor="middle" fill="#222" stroke="#222" stroke-width="0.1">G</text>
<text x="441.1" y="444.65" font-size="5.4" text-anchor="middle" fill="#d83030" stroke="#d83030" stroke-width="0.1">T</text>
<text x="445.5" y="444.65" font-size="5.4" text-anchor="middle" fill="#d83030" stroke="#d83030" stroke-width="0.1">T</text>
<text x="449.9" y="444.65" font-size="5.4" text-anchor="middle" fill="#4040c8" stroke="#4040c8" stroke-width="0.1">C</text>
<text x="454.5" y="444.65" font-size="5.4" text-anchor="middle" fill="#d83030" stroke="#d83030" stroke-width="0.1">T</text>
<text x="459.1" y="444.65" font-size="5.4" text-anchor="middle" fill="#4040c8" stroke="#4040c8" stroke-width="0.1">C</text>
<text x="463.5" y="444.65" font-size="5.4" text-anchor="middle" fill="#3d9a3d" stroke="#3d9a3d" stroke-width="0.1">A</text>
<text x="467.9" y="444.65" font-size="5.4" text-anchor="middle" fill="#222" stroke="#222" stroke-width="0.1">G</text>
<text x="472.5" y="444.65" font-size="5.4" text-anchor="middle" fill="#222" stroke="#222" stroke-width="0.1">G</text>
<text x="477.4" y="444.65" font-size="5.4" text-anchor="middle" fill="#3d9a3d" stroke="#3d9a3d" stroke-width="0.1">A</text>
<text x="482" y="444.65" font-size="5.4" text-anchor="middle" fill="#d83030" stroke="#d83030" stroke-width="0.1">T</text>
<text x="486.4" y="444.65" font-size="5.4" text-anchor="middle" fill="#3d9a3d" stroke="#3d9a3d" stroke-width="0.1">A</text>
<text x="490.8" y="444.65" font-size="5.4" text-anchor="middle" fill="#3d9a3d" stroke="#3d9a3d" stroke-width="0.1">A</text>
<text x="495.1" y="444.65" font-size="5.4" text-anchor="middle" fill="#3d9a3d" stroke="#3d9a3d" stroke-width="0.1">A</text>
<text x="499.5" y="444.65" font-size="5.4" text-anchor="middle" fill="#3d9a3d" stroke="#3d9a3d" stroke-width="0.1">A</text>
<text x="504.4" y="444.65" font-size="5.4" text-anchor="middle" fill="#d83030" stroke="#d83030" stroke-width="0.1">T</text>
<polyline points="465.7,465.83 466.1,464.99 466.5,463.38 466.9,460.81 467.3,457.45 467.7,453.99 468.1,451.52 468.5,450.97 468.9,452.56 469.3,455.67 469.7,459.2 470.1,462.22 470.5,464.3 470.9,465.49 471.3,466.06" fill="none" stroke="#5fb85f" stroke-width="0.72" stroke-linejoin="round"/>
<polyline points="480.1,466.06 480.5,465.45 480.9,464.13 481.3,461.71 481.7,458.01 482.1,453.44 482.5,449.07 482.9,446.37 483.3,446.37 483.7,449.07 484.1,453.44 484.5,458.01 484.9,461.71 485.3,464.13 485.7,465.45 486.1,466.06" fill="none" stroke="#5fb85f" stroke-width="0.72" stroke-linejoin="round"/>
<polyline points="488.9,466.06 489.3,465.49 489.7,464.3 490.1,462.22 490.5,459.2 490.9,455.67 491.3,452.56 491.7,450.97 492.1,451.51 492.5,453.95 492.9,457.32 493.3,460.43 493.7,462.37 494.1,462.66 494.5,461.19 494.9,458.21 495.3,454.43 495.7,451.03 496.1,449.27 496.5,449.86 496.9,452.52 497.3,456.12 497.7,459.25 498.1,460.78 498.5,460.14 498.9,457.38 499.3,453.22 499.7,449.01 500.1,446.35 500.5,446.34 500.9,449 501.3,453.2 501.7,457.32 502.1,460 502.5,460.47 502.9,458.67 503.3,455.2 503.7,451.24 504.1,448.32 504.5,447.68 504.9,449.61 505.3,453.38 505.7,457.66 506.1,461.33 506.5,463.86 506.9,465.3 507.3,465.99" fill="none" stroke="#5fb85f" stroke-width="0.72" stroke-linejoin="round"/>
<polyline points="451.7,466.14 452.1,465.65 452.5,464.55 452.9,462.43 453.3,459.05 453.7,454.62 454.1,450.06 454.5,446.82 454.9,446.09 455.3,448.19 455.7,452.27 456.1,456.92 456.5,460.9 456.9,463.64 457.3,465.2 457.7,465.95" fill="none" stroke="#5656d2" stroke-width="0.72" stroke-linejoin="round"/>
<polyline points="461.3,465.77 461.7,464.84 462.1,463.05 462.5,460.2 462.9,456.46 463.3,452.63 463.7,449.89 464.1,449.28 464.5,451.04 464.9,454.49 465.3,458.41 465.7,461.76 466.1,464.07 466.5,465.39 466.9,466.02" fill="none" stroke="#5656d2" stroke-width="0.72" stroke-linejoin="round"/>
<polyline points="433.3,464.9 433.7,463.07 434.1,460.01 434.5,455.78 434.9,451.14 435.3,447.43 435.7,446 436.1,447.43 436.5,451.13 436.9,455.74 437.3,459.87 437.7,462.62 438.1,463.7 438.5,463.06 438.9,460.7 439.3,456.86 439.7,452.26 440.1,448.18 440.5,446.09 440.9,446.82 441.3,450.06 441.7,454.62 442.1,459.05 442.5,462.43 442.9,464.55 443.3,465.65 443.7,466.14" fill="none" stroke="#2a2a2a" stroke-width="0.72" stroke-linejoin="round"/>
<polyline points="469.7,466.1 470.1,465.62 470.5,464.67 470.9,463.08 471.3,460.88 471.7,458.47 472.1,456.54 472.5,455.8 472.9,456.54 473.3,458.46 473.7,460.84 474.1,462.93 474.5,464.22 474.9,464.42 475.3,463.34 475.7,460.8 476.1,456.89 476.5,452.26 476.9,448.18 477.3,446.09 477.7,446.82 478.1,450.06 478.5,454.62 478.9,459.05 479.3,462.43 479.7,464.55 480.1,465.65 480.5,466.14" fill="none" stroke="#2a2a2a" stroke-width="0.72" stroke-linejoin="round"/>
<polyline points="442.9,465.83 443.3,465.03 443.7,463.57 444.1,461.34 444.5,458.58 444.9,455.95 445.3,454.32 445.7,454.32 446.1,455.95 446.5,458.57 446.9,461.27 447.3,463.34 447.7,464.37 448.1,464.19 448.5,462.69 448.9,459.85 449.3,455.98 449.7,451.98 450.1,449.12 450.5,448.48 450.9,450.33 451.3,453.93 451.7,458.04 452.1,461.55 452.5,463.96 452.9,465.34 453.3,466" fill="none" stroke="#e04848" stroke-width="0.72" stroke-linejoin="round"/>
<polyline points="456.5,465.97 456.9,465.25 457.3,463.75 457.7,461.12 458.1,457.29 458.5,452.83 458.9,448.9 459.3,446.89 459.7,447.58 460.1,450.71 460.5,455.08 460.9,459.34 461.3,462.59 461.7,464.62 462.1,465.68 462.5,466.15" fill="none" stroke="#e04848" stroke-width="0.72" stroke-linejoin="round"/>
<polyline points="484.5,465.77 484.9,464.84 485.3,463.05 485.7,460.2 486.1,456.46 486.5,452.63 486.9,449.89 487.3,449.28 487.7,451.04 488.1,454.49 488.5,458.41 488.9,461.76 489.3,464.07 489.7,465.39 490.1,466.02" fill="none" stroke="#e04848" stroke-width="0.72" stroke-linejoin="round"/>
<polyline points="506.5,465.91 506.9,465.14 507.3,463.6 507.7,461.01 508.1,457.45 508.5,453.53 508.9,450.4 509.3,449.2 509.7,450.4 510.1,453.53 510.5,457.45 510.9,461.01 511.3,463.6 511.7,465.14" fill="none" stroke="#e04848" stroke-width="0.72" stroke-linejoin="round"/>
<line x1="433.3" y1="466.4" x2="511.9" y2="466.4" stroke="#8a8a8a" stroke-width="0.55"/>
<text x="436.1" y="472.9" font-size="5.55" fill="#111">10:17705741</text>
<text x="508.1" y="472.9" font-size="5.55" text-anchor="end" fill="#111">10:17704431</text>
<path d="M471.5 477.9A33.8 33.8 0 0 1 504.09 520.68L487.89 516.21A17 17 0 0 0 471.5 494.7Z" fill="#dc8a1c" stroke="#6a6a6a" stroke-width="0.65"/>
<path d="M504.09 520.68A33.8 33.8 0 0 1 474.21 545.39L472.86 528.65A17 17 0 0 0 487.89 516.21Z" fill="#eaa852" stroke="#6a6a6a" stroke-width="0.65"/>
<path d="M474.21 545.39A33.8 33.8 0 1 1 471.5 477.9L471.5 494.7A17 17 0 1 0 472.86 528.65Z" fill="#f2c98e" stroke="#6a6a6a" stroke-width="0.65"/>
<line x1="471.5" y1="466.4" x2="471.5" y2="494.7" stroke="#6a6a6a" stroke-width="0.5"/>
<text x="491.7" y="498.4" font-size="5.6" text-anchor="middle" fill="#333" stroke="#333" stroke-width="0.12">10</text>
<text x="487.2" y="533.4" font-size="5.6" text-anchor="middle" fill="#333" stroke="#333" stroke-width="0.12">11</text>
<text x="446" y="514.5" font-size="5.6" text-anchor="middle" fill="#333" stroke="#333" stroke-width="0.12">12</text>
<text x="471" y="513.6" font-size="5.3" text-anchor="middle" fill="#222">circSTAM</text>
<line x1="41.55" y1="581.75" x2="41.55" y2="684.5" stroke="#1a1a1a" stroke-width="1.45"/>
<line x1="37.9" y1="585.1" x2="41.5" y2="585.1" stroke="#111" stroke-width="1.05"/>
<text x="33.9" y="587.75" font-size="6.7" text-anchor="end" fill="#1a1a1a" stroke="#1a1a1a" stroke-width="0.1">100</text>
<line x1="37.9" y1="606.85" x2="41.5" y2="606.85" stroke="#111" stroke-width="1.05"/>
<text x="33.9" y="609.5" font-size="6.7" text-anchor="end" fill="#1a1a1a" stroke="#1a1a1a" stroke-width="0.1">75</text>
<line x1="37.9" y1="628.35" x2="41.5" y2="628.35" stroke="#111" stroke-width="1.05"/>
<text x="33.9" y="631" font-size="6.7" text-anchor="end" fill="#1a1a1a" stroke="#1a1a1a" stroke-width="0.1">50</text>
<line x1="37.9" y1="650.1" x2="41.5" y2="650.1" stroke="#111" stroke-width="1.05"/>
<text x="33.9" y="652.75" font-size="6.7" text-anchor="end" fill="#1a1a1a" stroke="#1a1a1a" stroke-width="0.1">25</text>
<line x1="37.9" y1="671.6" x2="41.5" y2="671.6" stroke="#111" stroke-width="1.05"/>
<text x="33.9" y="674.25" font-size="6.7" text-anchor="end" fill="#1a1a1a" stroke="#1a1a1a" stroke-width="0.1">0</text>
<text transform="translate(17.2 633.75) rotate(-90)" x="0" y="0" font-size="9.4" text-anchor="middle" fill="#111" stroke="#111" stroke-width="0.2" textLength="51" lengthAdjust="spacingAndGlyphs">Normalized counts</text>
<text x="52.5" y="694.4" font-size="6.6" text-anchor="middle" fill="#111" stroke="#111" stroke-width="0.18" textLength="21.9" lengthAdjust="spacingAndGlyphs">CD34+</text>
<text x="70.6" y="694.4" font-size="6.6" text-anchor="middle" fill="#111" stroke="#111" stroke-width="0.18" textLength="9.7" lengthAdjust="spacingAndGlyphs">DP</text>
<text x="89.1" y="694.4" font-size="6.6" text-anchor="middle" fill="#111" stroke="#111" stroke-width="0.18" textLength="12.7" lengthAdjust="spacingAndGlyphs">IMM</text>
<text x="107.4" y="694.4" font-size="6.6" text-anchor="middle" fill="#111" stroke="#111" stroke-width="0.18" textLength="15.9" lengthAdjust="spacingAndGlyphs">TLX3</text>
<text x="125.5" y="694.4" font-size="6.6" text-anchor="middle" fill="#111" stroke="#111" stroke-width="0.18" textLength="17.7" lengthAdjust="spacingAndGlyphs">HOXA</text>
<text x="143.7" y="694.4" font-size="6.6" text-anchor="middle" fill="#111" stroke="#111" stroke-width="0.18" textLength="14.4" lengthAdjust="spacingAndGlyphs">TLX1</text>
<text x="156" y="694.4" font-size="6.6" fill="#111" stroke="#111" stroke-width="0.18" textLength="11.4" lengthAdjust="spacingAndGlyphs">TAL-</text>
<text x="156" y="702.2" font-size="6.6" fill="#111" stroke="#111" stroke-width="0.18" textLength="13.6" lengthAdjust="spacingAndGlyphs">LMO</text>
<line x1="51.25" y1="577.5" x2="123.25" y2="577.5" stroke="#4a4a4a" stroke-width="0.95"/>
<text x="87" y="577.1" font-size="5" text-anchor="middle" fill="#222" stroke="#222" stroke-width="0.15">***</text>
<line x1="69.5" y1="583.5" x2="123.25" y2="583.5" stroke="#4a4a4a" stroke-width="0.95"/>
<text x="96.25" y="583.1" font-size="5" text-anchor="middle" fill="#222" stroke="#222" stroke-width="0.15">***</text>
<circle cx="48.75" cy="670" r="1.95" fill="#1c3c7c"/>
<circle cx="50" cy="671.75" r="1.95" fill="#1c3c7c"/>
<circle cx="52.5" cy="671.75" r="1.95" fill="#1c3c7c"/>
<circle cx="54.5" cy="670" r="1.95" fill="#1c3c7c"/>
<circle cx="55.75" cy="671.75" r="1.95" fill="#1c3c7c"/>
<circle cx="57.5" cy="671.75" r="1.95" fill="#1c3c7c"/>
<circle cx="51.25" cy="671.25" r="1.95" fill="#1c3c7c"/>
<circle cx="66.25" cy="671.75" r="1.95" fill="#5aab3c"/>
<circle cx="70" cy="670" r="1.95" fill="#5aab3c"/>
<circle cx="72.5" cy="671.75" r="1.95" fill="#5aab3c"/>
<circle cx="75.5" cy="671.75" r="1.95" fill="#5aab3c"/>
<circle cx="85" cy="668.25" r="1.95" fill="#efb622"/>
<circle cx="94.25" cy="666.75" r="1.95" fill="#efb622"/>
<circle cx="89.25" cy="669.5" r="1.95" fill="#efb622"/>
<circle cx="90.5" cy="671.25" r="1.95" fill="#efb622"/>
<circle cx="93.75" cy="670.5" r="1.95" fill="#efb622"/>
<circle cx="105" cy="668.25" r="1.95" fill="#b0132f"/>
<circle cx="106.25" cy="670" r="1.95" fill="#b0132f"/>
<circle cx="105.5" cy="672" r="1.95" fill="#b0132f"/>
<circle cx="106" cy="669.5" r="1.95" fill="#b0132f"/>
<circle cx="120" cy="588" r="1.95" fill="#e8932a"/>
<circle cx="128.25" cy="647" r="1.95" fill="#e8932a"/>
<circle cx="123.75" cy="667" r="1.95" fill="#e8932a"/>
<circle cx="128.75" cy="665" r="1.95" fill="#e8932a"/>
<circle cx="124" cy="666.8" r="1.95" fill="#e8932a"/>
<circle cx="138.8" cy="670" r="1.95" fill="#4d1b5f"/>
<circle cx="141" cy="669.5" r="1.95" fill="#4d1b5f"/>
<circle cx="142.8" cy="670" r="1.95" fill="#4d1b5f"/>
<circle cx="147.7" cy="668.7" r="1.95" fill="#4d1b5f"/>
<circle cx="165.8" cy="651.2" r="1.95" fill="#d3168a"/>
<circle cx="160.9" cy="659.2" r="1.95" fill="#d3168a"/>
<circle cx="163.6" cy="664.1" r="1.95" fill="#d3168a"/>
<circle cx="157.7" cy="670.5" r="1.95" fill="#d3168a"/>
<circle cx="163.6" cy="670" r="1.95" fill="#d3168a"/>
<rect x="51.7" y="670.6" width="1.6" height="1.3" fill="#000"/>
<rect x="69.95" y="670.6" width="1.6" height="1.3" fill="#000"/>
<rect x="87.95" y="668.1" width="1.6" height="1.3" fill="#000"/>
<rect x="105.2" y="669.35" width="1.6" height="1.3" fill="#000"/>
<rect x="124.2" y="646.1" width="1.6" height="1.3" fill="#000"/>
<rect x="141.2" y="668.85" width="1.6" height="1.3" fill="#000"/>
<rect x="160.7" y="661.85" width="1.6" height="1.3" fill="#000"/>
<text x="149.6" y="578.3" font-size="5.6" text-anchor="middle" fill="#1a1a1a" stroke="#1a1a1a" stroke-width="0.12" textLength="36.8" lengthAdjust="spacingAndGlyphs">HOXA vs others</text>
<text x="149.6" y="583.8" font-size="5" text-anchor="middle" fill="#222" stroke="#222" stroke-width="0.15">***</text>
<text x="183.4" y="586.85" font-size="5.4" text-anchor="middle" fill="#4040c8" stroke="#4040c8" stroke-width="0.1">C</text>
<text x="188.03" y="586.85" font-size="5.4" text-anchor="middle" fill="#4040c8" stroke="#4040c8" stroke-width="0.1">C</text>
<text x="192.65" y="586.85" font-size="5.4" text-anchor="middle" fill="#3d9a3d" stroke="#3d9a3d" stroke-width="0.1">A</text>
<text x="197.28" y="586.85" font-size="5.4" text-anchor="middle" fill="#3d9a3d" stroke="#3d9a3d" stroke-width="0.1">A</text>
<text x="201.91" y="586.85" font-size="5.4" text-anchor="middle" fill="#4040c8" stroke="#4040c8" stroke-width="0.1">C</text>
<text x="206.53" y="586.85" font-size="5.4" text-anchor="middle" fill="#4040c8" stroke="#4040c8" stroke-width="0.1">C</text>
<text x="211.16" y="586.85" font-size="5.4" text-anchor="middle" fill="#3d9a3d" stroke="#3d9a3d" stroke-width="0.1">A</text>
<text x="215.79" y="586.85" font-size="5.4" text-anchor="middle" fill="#4040c8" stroke="#4040c8" stroke-width="0.1">C</text>
<text x="220.41" y="586.85" font-size="5.4" text-anchor="middle" fill="#d83030" stroke="#d83030" stroke-width="0.1">T</text>
<text x="225.04" y="586.85" font-size="5.4" text-anchor="middle" fill="#222" stroke="#222" stroke-width="0.1">G</text>
<text x="229.67" y="586.85" font-size="5.4" text-anchor="middle" fill="#222" stroke="#222" stroke-width="0.1">G</text>
<text x="234.29" y="586.85" font-size="5.4" text-anchor="middle" fill="#d83030" stroke="#d83030" stroke-width="0.1">T</text>
<text x="238.92" y="586.85" font-size="5.4" text-anchor="middle" fill="#d83030" stroke="#d83030" stroke-width="0.1">T</text>
<text x="243.55" y="586.85" font-size="5.4" text-anchor="middle" fill="#d83030" stroke="#d83030" stroke-width="0.1">T</text>
<text x="248.17" y="586.85" font-size="5.4" text-anchor="middle" fill="#d83030" stroke="#d83030" stroke-width="0.1">T</text>
<text x="252.8" y="586.85" font-size="5.4" text-anchor="middle" fill="#3d9a3d" stroke="#3d9a3d" stroke-width="0.1">A</text>
<polyline points="189.4,607.93 189.8,607.48 190.2,606.54 190.6,604.88 191,602.48 191.4,599.68 191.8,597.22 192.2,595.96 192.6,596.39 193,598.35 193.4,601.08 193.8,603.72 194.2,605.65 194.6,606.65 195,606.71 195.4,605.9 195.8,604.33 196.2,602.28 196.6,600.3 197,599.07 197.4,599.07 197.8,600.3 198.2,602.29 198.6,604.38 199,606.06 199.4,607.16 199.8,607.77" fill="none" stroke="#5fb85f" stroke-width="0.72" stroke-linejoin="round"/>
<polyline points="209.4,607.67 209.8,606.93 210.2,605.58 210.6,603.51 211,600.96 211.4,598.52 211.8,597 212.2,597 212.6,598.52 213,600.96 213.4,603.51 213.8,605.58 214.2,606.93 214.6,607.67" fill="none" stroke="#5fb85f" stroke-width="0.72" stroke-linejoin="round"/>
<polyline points="248.6,607.84 249,607.24 249.4,605.99 249.8,603.8 250.2,600.63 250.6,596.91 251,593.65 251.4,591.97 251.8,592.55 252.2,595.15 252.6,598.78 253,602.32 253.4,605.03 253.8,606.72 254.2,607.6" fill="none" stroke="#5fb85f" stroke-width="0.72" stroke-linejoin="round"/>
<polyline points="180.6,605.34 181,602.9 181.4,599.71 181.8,596.43 182.2,594.09 182.6,593.57 183,595.08 183.4,598.02 183.8,601.36 184.2,604.19 184.6,606.05 185,606.87 185.4,606.68 185.8,605.44 186.2,603.07 186.6,599.71 187,596 187.4,593.04 187.8,591.9 188.2,593.04 188.6,596.01 189,599.72 189.4,603.1 189.8,605.54 190.2,607 190.6,607.73" fill="none" stroke="#5656d2" stroke-width="0.72" stroke-linejoin="round"/>
<polyline points="199,607.83 199.4,607.24 199.8,606.06 200.2,604.1 200.6,601.38 201,598.4 201.4,596.02 201.8,595.1 202.2,596.02 202.6,598.4 203,601.37 203.4,604.06 203.8,605.92 204.2,606.81 204.6,606.67 205,605.42 205.4,602.88 205.8,599.08 206.2,594.62 206.6,590.7 207,588.69 207.4,589.38 207.8,592.51 208.2,596.88 208.6,601.14 209,604.39 209.4,606.42 209.8,607.48 210.2,607.95" fill="none" stroke="#5656d2" stroke-width="0.72" stroke-linejoin="round"/>
<polyline points="214.2,607.84 214.6,607.31 215,606.29 215.4,604.67 215.8,602.54 216.2,600.35 216.6,598.79 217,598.44 217.4,599.45 217.8,601.41 218.2,603.65 218.6,605.56 219,606.87 219.4,607.62" fill="none" stroke="#5656d2" stroke-width="0.72" stroke-linejoin="round"/>
<polyline points="223,607.8 223.4,607.14 223.8,605.76 224.2,603.35 224.6,599.84 225,595.73 225.4,592.13 225.8,590.28 226.2,590.92 226.6,593.78 227,597.78 227.4,601.63 227.8,604.44 228.2,605.84 228.6,605.81 229,604.4 229.4,601.76 229.8,598.33 230.2,595.03 230.6,592.98 231,592.98 231.4,595.03 231.8,598.35 232.2,601.83 232.6,604.63 233,606.47 233.4,607.48 233.8,607.94" fill="none" stroke="#2a2a2a" stroke-width="0.72" stroke-linejoin="round"/>
<polyline points="219,607.89 219.4,607.39 219.8,606.41 220.2,604.76 220.6,602.48 221,599.97 221.4,597.97 221.8,597.2 222.2,597.97 222.6,599.97 223,602.48 223.4,604.76 223.8,606.41 224.2,607.39 224.6,607.89" fill="none" stroke="#e04848" stroke-width="0.72" stroke-linejoin="round"/>
<polyline points="232.2,607.51 232.6,606.56 233,604.82 233.4,602.16 233.8,598.86 234.2,595.71 234.6,593.76 235,593.76 235.4,595.71 235.8,598.86 236.2,602.15 236.6,604.81 237,606.52 237.4,607.38 237.8,607.55 238.2,607.1 238.6,605.91 239,603.84 239.4,600.96 239.8,597.8 240.2,595.27 240.6,594.29 241,595.24 241.4,597.7 241.8,600.65 242.2,603.04 242.6,604.14 243,603.74 243.4,602.08 243.8,599.83 244.2,597.91 244.6,597.1 245,597.7 245.4,599.25 245.8,600.81 246.2,601.44 246.6,600.69 247,598.87 247.4,596.9 247.8,595.85 248.2,596.36 248.6,598.34 249,601.09 249.4,603.77 249.8,605.81 250.2,607.08 250.6,607.74" fill="none" stroke="#e04848" stroke-width="0.72" stroke-linejoin="round"/>
<polyline points="251.8,607.8 252.2,607.23 252.6,606.14 253,604.38 253.4,602.08 253.8,599.71 254.2,598.02 254.6,597.65 255,598.74 255.4,600.86" fill="none" stroke="#e04848" stroke-width="0.72" stroke-linejoin="round"/>
<line x1="180.6" y1="608.2" x2="255.6" y2="608.2" stroke="#8a8a8a" stroke-width="0.55"/>
<text x="179.8" y="615.1" font-size="5.55" fill="#111">10:17604047</text>
<text x="255.6" y="615.1" font-size="5.55" text-anchor="end" fill="#111">10:17603560</text>
<path d="M218.5 619.5A33.7 33.7 0 1 1 214.16 686.62L216.34 669.86A16.8 16.8 0 1 0 218.5 636.4Z" fill="#dc8a1c" stroke="#6a6a6a" stroke-width="0.65"/>
<path d="M214.16 686.62A33.7 33.7 0 0 1 197.16 679.28L207.86 666.2A16.8 16.8 0 0 0 216.34 669.86Z" fill="#e8a550" stroke="#6a6a6a" stroke-width="0.65"/>
<path d="M197.16 679.28A33.7 33.7 0 0 1 218.5 619.5L218.5 636.4A16.8 16.8 0 0 0 207.86 666.2Z" fill="#f2c98e" stroke="#6a6a6a" stroke-width="0.65"/>
<line x1="218.5" y1="608.2" x2="218.5" y2="636.4" stroke="#6a6a6a" stroke-width="0.5"/>
<text x="243.3" y="657.7" font-size="5.6" text-anchor="middle" fill="#333" stroke="#333" stroke-width="0.12">2</text>
<text x="208.3" y="677.9" font-size="5.6" text-anchor="middle" fill="#333" stroke="#333" stroke-width="0.12">3</text>
<text x="194.9" y="647" font-size="5.6" text-anchor="middle" fill="#333" stroke="#333" stroke-width="0.12">4</text>
<text x="218" y="655.1" font-size="5.3" text-anchor="middle" fill="#222">circHACD1</text>
<line x1="292.4" y1="583.75" x2="292.4" y2="685" stroke="#1a1a1a" stroke-width="1.45"/>
<line x1="288.4" y1="590.1" x2="292" y2="590.1" stroke="#111" stroke-width="1.05"/>
<text x="284.4" y="592.75" font-size="6.7" text-anchor="end" fill="#1a1a1a" stroke="#1a1a1a" stroke-width="0.1">80</text>
<line x1="288.4" y1="615.1" x2="292" y2="615.1" stroke="#111" stroke-width="1.05"/>
<text x="284.4" y="617.75" font-size="6.7" text-anchor="end" fill="#1a1a1a" stroke="#1a1a1a" stroke-width="0.1">60</text>
<line x1="288.4" y1="640.1" x2="292" y2="640.1" stroke="#111" stroke-width="1.05"/>
<text x="284.4" y="642.75" font-size="6.7" text-anchor="end" fill="#1a1a1a" stroke="#1a1a1a" stroke-width="0.1">40</text>
<line x1="288.4" y1="665.1" x2="292" y2="665.1" stroke="#111" stroke-width="1.05"/>
<text x="284.4" y="667.75" font-size="6.7" text-anchor="end" fill="#1a1a1a" stroke="#1a1a1a" stroke-width="0.1">20</text>
<text x="303.35" y="694.4" font-size="6.6" text-anchor="middle" fill="#111" stroke="#111" stroke-width="0.18" textLength="21.9" lengthAdjust="spacingAndGlyphs">CD34+</text>
<text x="322.45" y="694.4" font-size="6.6" text-anchor="middle" fill="#111" stroke="#111" stroke-width="0.18" textLength="9.7" lengthAdjust="spacingAndGlyphs">DP</text>
<text x="340.85" y="694.4" font-size="6.6" text-anchor="middle" fill="#111" stroke="#111" stroke-width="0.18" textLength="12.7" lengthAdjust="spacingAndGlyphs">IMM</text>
<text x="360.4" y="694.4" font-size="6.6" text-anchor="middle" fill="#111" stroke="#111" stroke-width="0.18" textLength="15.9" lengthAdjust="spacingAndGlyphs">TLX3</text>
<text x="378.35" y="694.4" font-size="6.6" text-anchor="middle" fill="#111" stroke="#111" stroke-width="0.18" textLength="17.7" lengthAdjust="spacingAndGlyphs">HOXA</text>
<text x="397.1" y="694.4" font-size="6.6" text-anchor="middle" fill="#111" stroke="#111" stroke-width="0.18" textLength="14.4" lengthAdjust="spacingAndGlyphs">TLX1</text>
<text x="409.5" y="694.4" font-size="6.6" fill="#111" stroke="#111" stroke-width="0.18" textLength="11.4" lengthAdjust="spacingAndGlyphs">TAL-</text>
<text x="409.5" y="702.2" font-size="6.6" fill="#111" stroke="#111" stroke-width="0.18" textLength="13.6" lengthAdjust="spacingAndGlyphs">LMO</text>
<line x1="307.5" y1="576.5" x2="395.6" y2="576.5" stroke="#4a4a4a" stroke-width="0.95"/>
<text x="351.75" y="576.1" font-size="5" text-anchor="middle" fill="#222" stroke="#222" stroke-width="0.15">***</text>
<line x1="326.25" y1="582.5" x2="395.6" y2="582.5" stroke="#4a4a4a" stroke-width="0.95"/>
<text x="361.25" y="582.1" font-size="5" text-anchor="middle" fill="#222" stroke="#222" stroke-width="0.15">***</text>
<circle cx="302" cy="646.75" r="1.95" fill="#1c3c7c"/>
<circle cx="300" cy="648.75" r="1.95" fill="#1c3c7c"/>
<circle cx="298" cy="656.75" r="1.95" fill="#1c3c7c"/>
<circle cx="305.75" cy="660.5" r="1.95" fill="#1c3c7c"/>
<circle cx="302.5" cy="663" r="1.95" fill="#1c3c7c"/>
<circle cx="302" cy="670.5" r="1.95" fill="#1c3c7c"/>
<circle cx="305" cy="670.5" r="1.95" fill="#1c3c7c"/>
<circle cx="317" cy="664.5" r="1.95" fill="#5aab3c"/>
<circle cx="318" cy="674.25" r="1.95" fill="#5aab3c"/>
<circle cx="324.25" cy="672.5" r="1.95" fill="#5aab3c"/>
<circle cx="327" cy="670" r="1.95" fill="#5aab3c"/>
<circle cx="340.5" cy="655" r="1.95" fill="#efb622"/>
<circle cx="343.75" cy="658.25" r="1.95" fill="#efb622"/>
<circle cx="338.75" cy="660.75" r="1.95" fill="#efb622"/>
<circle cx="342.5" cy="674.25" r="1.95" fill="#efb622"/>
<circle cx="340.5" cy="680.5" r="1.95" fill="#efb622"/>
<circle cx="357.5" cy="640" r="1.95" fill="#b0132f"/>
<circle cx="360.5" cy="640" r="1.95" fill="#b0132f"/>
<circle cx="363.25" cy="638.75" r="1.95" fill="#b0132f"/>
<circle cx="361.25" cy="646.25" r="1.95" fill="#b0132f"/>
<circle cx="365" cy="653" r="1.95" fill="#b0132f"/>
<circle cx="376.75" cy="644.5" r="1.95" fill="#e8932a"/>
<circle cx="383" cy="644" r="1.95" fill="#e8932a"/>
<circle cx="378" cy="650.5" r="1.95" fill="#e8932a"/>
<circle cx="376.25" cy="652" r="1.95" fill="#e8932a"/>
<circle cx="382.5" cy="668.75" r="1.95" fill="#e8932a"/>
<circle cx="393.5" cy="587.3" r="1.95" fill="#4d1b5f"/>
<circle cx="397.5" cy="612.7" r="1.95" fill="#4d1b5f"/>
<circle cx="400.7" cy="645.2" r="1.95" fill="#4d1b5f"/>
<circle cx="401" cy="650.6" r="1.95" fill="#4d1b5f"/>
<circle cx="395.3" cy="651.2" r="1.95" fill="#4d1b5f"/>
<circle cx="415.8" cy="632.3" r="1.95" fill="#d3168a"/>
<circle cx="413.7" cy="639.9" r="1.95" fill="#d3168a"/>
<circle cx="411.5" cy="643.6" r="1.95" fill="#d3168a"/>
<circle cx="415.5" cy="665.4" r="1.95" fill="#d3168a"/>
<rect x="302.95" y="658.85" width="1.6" height="1.3" fill="#000"/>
<rect x="321.2" y="669.85" width="1.6" height="1.3" fill="#000"/>
<rect x="339.95" y="665.1" width="1.6" height="1.3" fill="#000"/>
<rect x="358.7" y="643.1" width="1.6" height="1.3" fill="#000"/>
<rect x="377.2" y="650.6" width="1.6" height="1.3" fill="#000"/>
<rect x="395.9" y="628.95" width="1.6" height="1.3" fill="#000"/>
<rect x="415" y="648.65" width="1.6" height="1.3" fill="#000"/>
<text x="414" y="577.8" font-size="5.6" text-anchor="middle" fill="#1a1a1a" stroke="#1a1a1a" stroke-width="0.12" textLength="33.6" lengthAdjust="spacingAndGlyphs">TLX1 vs others</text>
<text x="414" y="582.9" font-size="5" text-anchor="middle" fill="#222" stroke="#222" stroke-width="0.15">**</text>
<text x="436.9" y="586.45" font-size="5.4" text-anchor="middle" fill="#222" stroke="#222" stroke-width="0.1">G</text>
<text x="441.1" y="586.45" font-size="5.4" text-anchor="middle" fill="#3d9a3d" stroke="#3d9a3d" stroke-width="0.1">A</text>
<text x="445.5" y="586.45" font-size="5.4" text-anchor="middle" fill="#d83030" stroke="#d83030" stroke-width="0.1">T</text>
<text x="449.9" y="586.45" font-size="5.4" text-anchor="middle" fill="#222" stroke="#222" stroke-width="0.1">G</text>
<text x="454.5" y="586.45" font-size="5.4" text-anchor="middle" fill="#d83030" stroke="#d83030" stroke-width="0.1">T</text>
<text x="459.1" y="586.45" font-size="5.4" text-anchor="middle" fill="#d83030" stroke="#d83030" stroke-width="0.1">T</text>
<text x="463.5" y="586.45" font-size="5.4" text-anchor="middle" fill="#3d9a3d" stroke="#3d9a3d" stroke-width="0.1">A</text>
<text x="467.9" y="586.45" font-size="5.4" text-anchor="middle" fill="#d83030" stroke="#d83030" stroke-width="0.1">T</text>
<text x="472.2" y="586.45" font-size="5.4" text-anchor="middle" fill="#4040c8" stroke="#4040c8" stroke-width="0.1">C</text>
<text x="477.1" y="586.45" font-size="5.4" text-anchor="middle" fill="#d83030" stroke="#d83030" stroke-width="0.1">T</text>
<text x="481" y="586.45" font-size="5.4" text-anchor="middle" fill="#d83030" stroke="#d83030" stroke-width="0.1">T</text>
<text x="485.2" y="586.45" font-size="5.4" text-anchor="middle" fill="#222" stroke="#222" stroke-width="0.1">G</text>
<text x="489.7" y="586.45" font-size="5.4" text-anchor="middle" fill="#d83030" stroke="#d83030" stroke-width="0.1">T</text>
<text x="494.1" y="586.45" font-size="5.4" text-anchor="middle" fill="#d83030" stroke="#d83030" stroke-width="0.1">T</text>
<text x="498.6" y="586.45" font-size="5.4" text-anchor="middle" fill="#222" stroke="#222" stroke-width="0.1">G</text>
<text x="504.4" y="586.45" font-size="5.4" text-anchor="middle" fill="#3d9a3d" stroke="#3d9a3d" stroke-width="0.1">A</text>
<polyline points="439.4,607.08 439.8,606.54 440.2,605.41 440.6,603.44 441,600.57 441.4,597.22 441.8,594.28 442.2,592.77 442.6,593.29 443,595.63 443.4,598.91 443.8,602.1 444.2,604.54 444.6,606.07 445,606.86" fill="none" stroke="#5fb85f" stroke-width="0.72" stroke-linejoin="round"/>
<polyline points="459.8,607.15 460.2,606.73 460.6,605.86 461,604.33 461.4,602.1 461.8,599.5 462.2,597.22 462.6,596.05 463,596.46 463.4,598.27 463.8,600.81 464.2,603.29 464.6,605.18 465,606.36 465.4,606.98" fill="none" stroke="#5fb85f" stroke-width="0.72" stroke-linejoin="round"/>
<polyline points="500.6,607.14 501,606.68 501.4,605.67 501.8,603.83 502.2,601.03 502.6,597.55 503,594.23 503.4,592.18 503.8,592.18 504.2,594.23 504.6,597.55 505,601.03 505.4,603.83 505.8,605.67 506.2,606.68" fill="none" stroke="#5fb85f" stroke-width="0.72" stroke-linejoin="round"/>
<polyline points="468.6,606.75 469,605.85 469.4,604.2 469.8,601.69 470.2,598.57 470.6,595.59 471,593.75 471.4,593.75 471.8,595.59 472.2,598.57 472.6,601.69 473,604.2 473.4,605.85 473.8,606.75" fill="none" stroke="#5656d2" stroke-width="0.72" stroke-linejoin="round"/>
<polyline points="433.8,592.52 434.2,591.97 434.6,593.56 435,596.67 435.4,600.2 435.8,603.22 436.2,605.3 436.6,606.49 437,607.06" fill="none" stroke="#2a2a2a" stroke-width="0.72" stroke-linejoin="round"/>
<polyline points="447.4,607.11 447.8,606.6 448.2,605.48 448.6,603.44 449,600.33 449.4,596.47 449.8,592.79 450.2,590.51 450.6,590.51 451,592.79 451.4,596.47 451.8,600.33 452.2,603.44 452.6,605.48 453,606.6 453.4,607.11" fill="none" stroke="#2a2a2a" stroke-width="0.72" stroke-linejoin="round"/>
<polyline points="482.2,607.08 482.6,606.52 483,605.31 483.4,603.07 483.8,599.67 484.2,595.45 484.6,591.43 485,588.94 485.4,588.94 485.8,591.43 486.2,595.45 486.6,599.67 487,603.07 487.4,605.31 487.8,606.52 488.2,607.08" fill="none" stroke="#2a2a2a" stroke-width="0.72" stroke-linejoin="round"/>
<polyline points="495.8,607.05 496.2,606.5 496.6,605.4 497,603.55 497.4,601 497.8,598.2 498.2,595.96 498.6,595.1 499,595.96 499.4,598.2 499.8,601 500.2,603.55 500.6,605.4 501,606.5 501.4,607.05" fill="none" stroke="#2a2a2a" stroke-width="0.72" stroke-linejoin="round"/>
<polyline points="442.2,607.03 442.6,606.45 443,605.28 443.4,603.33 443.8,600.63 444.2,597.67 444.6,595.31 445,594.4 445.4,595.31 445.8,597.67 446.2,600.63 446.6,603.33 447,605.28 447.4,606.45 447.8,607.03" fill="none" stroke="#e04848" stroke-width="0.72" stroke-linejoin="round"/>
<polyline points="451.8,606.92 452.2,606.22 452.6,604.87 453,602.71 453.4,599.89 453.8,596.99 454.2,594.92 454.6,594.46 455,595.79 455.4,598.39 455.8,601.32 456.2,603.77 456.6,605.27 457,605.68 457.4,604.99 457.8,603.24 458.2,600.61 458.6,597.67 459,595.31 459.4,594.4 459.8,595.31 460.2,597.67 460.6,600.63 461,603.33 461.4,605.28 461.8,606.45 462.2,607.03" fill="none" stroke="#e04848" stroke-width="0.72" stroke-linejoin="round"/>
<polyline points="463.8,607.12 464.2,606.64 464.6,605.58 465,603.65 465.4,600.7 465.8,597.04 466.2,593.56 466.6,591.39 467,591.39 467.4,593.56 467.8,597.04 468.2,600.7 468.6,603.65 469,605.58 469.4,606.64 469.8,607.12" fill="none" stroke="#e04848" stroke-width="0.72" stroke-linejoin="round"/>
<polyline points="473.4,606.89 473.8,606.14 474.2,604.7 474.6,602.39 475,599.37 475.4,596.27 475.8,594.05 476.2,593.56 476.6,594.96 477,597.67 477.4,600.63 477.8,602.84 478.2,603.64 478.6,602.84 479,600.63 479.4,597.67 479.8,594.96 480.2,593.56 480.6,594.05 481,596.27 481.4,599.37 481.8,602.39 482.2,604.7 482.6,606.14 483,606.89" fill="none" stroke="#e04848" stroke-width="0.72" stroke-linejoin="round"/>
<polyline points="487,606.98 487.4,606.36 487.8,605.18 488.2,603.29 488.6,600.81 489,598.27 489.4,596.46 489.8,596.05 490.2,597.21 490.6,599.45 491,601.94 491.4,603.85 491.8,604.68 492.2,604.2 492.6,602.46 493,599.81 493.4,596.97 493.8,594.91 494.2,594.46 494.6,595.79 495,598.4 495.4,601.36 495.8,603.89 496.2,605.64 496.6,606.64 497,607.11" fill="none" stroke="#e04848" stroke-width="0.72" stroke-linejoin="round"/>
<line x1="433.8" y1="607.4" x2="506.5" y2="607.4" stroke="#8a8a8a" stroke-width="0.55"/>
<text x="434.1" y="614.4" font-size="5.55" fill="#111">9:135883078</text>
<text x="509" y="614.4" font-size="5.55" text-anchor="end" fill="#111">9:135881633</text>
<path d="M471.8 619.9A33.6 33.6 0 1 1 448.04 677.26L459.92 665.38A16.8 16.8 0 1 0 471.8 636.7Z" fill="#4f1f5f" stroke="#6a6a6a" stroke-width="0.65"/>
<path d="M448.04 677.26A33.6 33.6 0 0 1 471.8 619.9L471.8 636.7A16.8 16.8 0 0 0 459.92 665.38Z" fill="#7b5b8b" stroke="#6a6a6a" stroke-width="0.65"/>
<line x1="472.4" y1="607.4" x2="472.4" y2="636.7" stroke="#6a6a6a" stroke-width="0.5"/>
<text x="495.8" y="663.1" font-size="5.6" text-anchor="middle" fill="#ffffff" stroke="#ffffff" stroke-width="0.12">2</text>
<text x="447.9" y="645.6" font-size="5.6" text-anchor="middle" fill="#ffffff" stroke="#ffffff" stroke-width="0.12">3</text>
<text x="471.3" y="655.4" font-size="5.3" text-anchor="middle" fill="#222">circCAMSAP1</text>
<line x1="162.55" y1="723" x2="162.55" y2="826.25" stroke="#1a1a1a" stroke-width="1.45"/>
<line x1="158.9" y1="726.35" x2="162.5" y2="726.35" stroke="#111" stroke-width="1.05"/>
<text x="154.9" y="729" font-size="6.7" text-anchor="end" fill="#1a1a1a" stroke="#1a1a1a" stroke-width="0.1">125</text>
<line x1="158.9" y1="745.6" x2="162.5" y2="745.6" stroke="#111" stroke-width="1.05"/>
<text x="154.9" y="748.25" font-size="6.7" text-anchor="end" fill="#1a1a1a" stroke="#1a1a1a" stroke-width="0.1">100</text>
<line x1="158.9" y1="764.6" x2="162.5" y2="764.6" stroke="#111" stroke-width="1.05"/>
<text x="154.9" y="767.25" font-size="6.7" text-anchor="end" fill="#1a1a1a" stroke="#1a1a1a" stroke-width="0.1">75</text>
<line x1="158.9" y1="783.85" x2="162.5" y2="783.85" stroke="#111" stroke-width="1.05"/>
<text x="154.9" y="786.5" font-size="6.7" text-anchor="end" fill="#1a1a1a" stroke="#1a1a1a" stroke-width="0.1">50</text>
<line x1="158.9" y1="802.85" x2="162.5" y2="802.85" stroke="#111" stroke-width="1.05"/>
<text x="154.9" y="805.5" font-size="6.7" text-anchor="end" fill="#1a1a1a" stroke="#1a1a1a" stroke-width="0.1">25</text>
<line x1="158.9" y1="821.85" x2="162.5" y2="821.85" stroke="#111" stroke-width="1.05"/>
<text x="154.9" y="824.5" font-size="6.7" text-anchor="end" fill="#1a1a1a" stroke="#1a1a1a" stroke-width="0.1">0</text>
<text transform="translate(138.45 774.4) rotate(-90)" x="0" y="0" font-size="9.4" text-anchor="middle" fill="#111" stroke="#111" stroke-width="0.2" textLength="51" lengthAdjust="spacingAndGlyphs">Normalized counts</text>
<text x="174.15" y="836" font-size="6.6" text-anchor="middle" fill="#111" stroke="#111" stroke-width="0.18" textLength="21.9" lengthAdjust="spacingAndGlyphs">CD34+</text>
<text x="192.45" y="836" font-size="6.6" text-anchor="middle" fill="#111" stroke="#111" stroke-width="0.18" textLength="9.7" lengthAdjust="spacingAndGlyphs">DP</text>
<text x="210.75" y="836" font-size="6.6" text-anchor="middle" fill="#111" stroke="#111" stroke-width="0.18" textLength="12.7" lengthAdjust="spacingAndGlyphs">IMM</text>
<text x="229.05" y="836" font-size="6.6" text-anchor="middle" fill="#111" stroke="#111" stroke-width="0.18" textLength="15.9" lengthAdjust="spacingAndGlyphs">TLX3</text>
<text x="246.95" y="836" font-size="6.6" text-anchor="middle" fill="#111" stroke="#111" stroke-width="0.18" textLength="17.7" lengthAdjust="spacingAndGlyphs">HOXA</text>
<text x="264.6" y="836" font-size="6.6" text-anchor="middle" fill="#111" stroke="#111" stroke-width="0.18" textLength="14.4" lengthAdjust="spacingAndGlyphs">TLX1</text>
<text x="276.8" y="836" font-size="6.6" fill="#111" stroke="#111" stroke-width="0.18" textLength="11.4" lengthAdjust="spacingAndGlyphs">TAL-</text>
<text x="276.8" y="843.8" font-size="6.6" fill="#111" stroke="#111" stroke-width="0.18" textLength="13.6" lengthAdjust="spacingAndGlyphs">LMO</text>
<line x1="173" y1="719.5" x2="285" y2="719.5" stroke="#4a4a4a" stroke-width="0.95"/>
<text x="228.75" y="719.1" font-size="5" text-anchor="middle" fill="#222" stroke="#222" stroke-width="0.15">***</text>
<line x1="192" y1="724.5" x2="285" y2="724.5" stroke="#4a4a4a" stroke-width="0.95"/>
<text x="238.25" y="724.1" font-size="5" text-anchor="middle" fill="#222" stroke="#222" stroke-width="0.15">***</text>
<circle cx="168.75" cy="812" r="1.95" fill="#1c3c7c"/>
<circle cx="171.25" cy="811.25" r="1.95" fill="#1c3c7c"/>
<circle cx="175" cy="813" r="1.95" fill="#1c3c7c"/>
<circle cx="174.5" cy="803.25" r="1.95" fill="#1c3c7c"/>
<circle cx="178.25" cy="803.25" r="1.95" fill="#1c3c7c"/>
<circle cx="170" cy="818.25" r="1.95" fill="#1c3c7c"/>
<circle cx="177" cy="817.5" r="1.95" fill="#1c3c7c"/>
<circle cx="178" cy="821.75" r="1.95" fill="#1c3c7c"/>
<circle cx="189.25" cy="802.5" r="1.95" fill="#5aab3c"/>
<circle cx="194.25" cy="798" r="1.95" fill="#5aab3c"/>
<circle cx="195" cy="807" r="1.95" fill="#5aab3c"/>
<circle cx="190" cy="808.25" r="1.95" fill="#5aab3c"/>
<circle cx="207.5" cy="800" r="1.95" fill="#efb622"/>
<circle cx="212" cy="797.5" r="1.95" fill="#efb622"/>
<circle cx="213.75" cy="805.75" r="1.95" fill="#efb622"/>
<circle cx="209.5" cy="813.75" r="1.95" fill="#efb622"/>
<circle cx="214.5" cy="821.75" r="1.95" fill="#efb622"/>
<circle cx="228.75" cy="785" r="1.95" fill="#b0132f"/>
<circle cx="232" cy="795.75" r="1.95" fill="#b0132f"/>
<circle cx="223" cy="808" r="1.95" fill="#b0132f"/>
<circle cx="225" cy="811.25" r="1.95" fill="#b0132f"/>
<circle cx="230.5" cy="809" r="1.95" fill="#b0132f"/>
<circle cx="241.75" cy="766.25" r="1.95" fill="#e8932a"/>
<circle cx="248" cy="778.25" r="1.95" fill="#e8932a"/>
<circle cx="243" cy="784.5" r="1.95" fill="#e8932a"/>
<circle cx="250.75" cy="789.5" r="1.95" fill="#e8932a"/>
<circle cx="247.5" cy="803.25" r="1.95" fill="#e8932a"/>
<circle cx="268.3" cy="779.9" r="1.95" fill="#4d1b5f"/>
<circle cx="268.8" cy="789.3" r="1.95" fill="#4d1b5f"/>
<circle cx="265.3" cy="803.3" r="1.95" fill="#4d1b5f"/>
<circle cx="269.4" cy="802.5" r="1.95" fill="#4d1b5f"/>
<circle cx="268.3" cy="806.8" r="1.95" fill="#4d1b5f"/>
<circle cx="286.3" cy="729.2" r="1.95" fill="#d3168a"/>
<circle cx="285" cy="740.8" r="1.95" fill="#d3168a"/>
<circle cx="285" cy="760.2" r="1.95" fill="#d3168a"/>
<circle cx="286.9" cy="766.4" r="1.95" fill="#d3168a"/>
<circle cx="282.3" cy="780.4" r="1.95" fill="#d3168a"/>
<rect x="172.95" y="811.85" width="1.6" height="1.3" fill="#000"/>
<rect x="191.2" y="803.85" width="1.6" height="1.3" fill="#000"/>
<rect x="209.2" y="806.85" width="1.6" height="1.3" fill="#000"/>
<rect x="227.95" y="801.35" width="1.6" height="1.3" fill="#000"/>
<rect x="245.95" y="783.85" width="1.6" height="1.3" fill="#000"/>
<rect x="264" y="795.85" width="1.6" height="1.3" fill="#000"/>
<rect x="282.3" y="754.65" width="1.6" height="1.3" fill="#000"/>
<text x="254.8" y="742.8" font-size="5.6" text-anchor="middle" fill="#1a1a1a" stroke="#1a1a1a" stroke-width="0.12" textLength="43.7" lengthAdjust="spacingAndGlyphs">TAL-LMO vs others</text>
<text x="254.8" y="749.3" font-size="5" text-anchor="middle" fill="#222" stroke="#222" stroke-width="0.15">***</text>
<text x="304.4" y="733.15" font-size="5.4" text-anchor="middle" fill="#222" stroke="#222" stroke-width="0.1">G</text>
<text x="308.97" y="733.15" font-size="5.4" text-anchor="middle" fill="#222" stroke="#222" stroke-width="0.1">G</text>
<text x="313.55" y="733.15" font-size="5.4" text-anchor="middle" fill="#4040c8" stroke="#4040c8" stroke-width="0.1">C</text>
<text x="318.12" y="733.15" font-size="5.4" text-anchor="middle" fill="#d83030" stroke="#d83030" stroke-width="0.1">T</text>
<text x="322.69" y="733.15" font-size="5.4" text-anchor="middle" fill="#3d9a3d" stroke="#3d9a3d" stroke-width="0.1">A</text>
<text x="327.27" y="733.15" font-size="5.4" text-anchor="middle" fill="#3d9a3d" stroke="#3d9a3d" stroke-width="0.1">A</text>
<text x="331.84" y="733.15" font-size="5.4" text-anchor="middle" fill="#d83030" stroke="#d83030" stroke-width="0.1">T</text>
<text x="336.41" y="733.15" font-size="5.4" text-anchor="middle" fill="#222" stroke="#222" stroke-width="0.1">G</text>
<text x="340.99" y="733.15" font-size="5.4" text-anchor="middle" fill="#222" stroke="#222" stroke-width="0.1">G</text>
<text x="345.56" y="733.15" font-size="5.4" text-anchor="middle" fill="#3d9a3d" stroke="#3d9a3d" stroke-width="0.1">A</text>
<text x="350.13" y="733.15" font-size="5.4" text-anchor="middle" fill="#d83030" stroke="#d83030" stroke-width="0.1">T</text>
<text x="354.71" y="733.15" font-size="5.4" text-anchor="middle" fill="#4040c8" stroke="#4040c8" stroke-width="0.1">C</text>
<text x="359.28" y="733.15" font-size="5.4" text-anchor="middle" fill="#d83030" stroke="#d83030" stroke-width="0.1">T</text>
<text x="363.85" y="733.15" font-size="5.4" text-anchor="middle" fill="#222" stroke="#222" stroke-width="0.1">G</text>
<text x="368.43" y="733.15" font-size="5.4" text-anchor="middle" fill="#4040c8" stroke="#4040c8" stroke-width="0.1">C</text>
<text x="373" y="733.15" font-size="5.4" text-anchor="middle" fill="#3d9a3d" stroke="#3d9a3d" stroke-width="0.1">A</text>
<polyline points="320.4,755.38 320.8,754.89 321.2,753.89 321.6,752.22 322,749.92 322.4,747.39 322.8,745.36 323.2,744.55 323.6,745.21 324,746.93 324.4,748.77 324.8,749.75 325.2,749.31 325.6,747.55 326,745.21 326.4,743.4 326.8,743.03 327.2,744.35 327.6,746.9 328,749.8 328.4,752.28 328.8,753.98 329.2,754.95 329.6,755.42" fill="none" stroke="#5fb85f" stroke-width="0.72" stroke-linejoin="round"/>
<polyline points="344,755.38 344.4,754.85 344.8,753.75 345.2,751.82 345.6,749.01 346,745.73 346.4,742.84 346.8,741.37 347.2,741.88 347.6,744.17 348,747.38 348.4,750.51 348.8,752.9 349.2,754.39 349.6,755.17" fill="none" stroke="#5fb85f" stroke-width="0.72" stroke-linejoin="round"/>
<polyline points="370.4,755.37 370.8,754.92 371.2,754.09 371.6,752.82 372,751.25 372.4,749.75 372.8,748.83 373.2,748.83 373.6,749.75 374,751.25 374.4,752.82 374.8,754.09 375.2,754.92 375.6,755.37" fill="none" stroke="#5fb85f" stroke-width="0.72" stroke-linejoin="round"/>
<polyline points="310.8,755.14 311.2,754.41 311.6,753.14 312,751.29 312.4,749.12 312.8,747.22 313.2,746.24 313.6,746.58 314,748.09 314.4,750.21 314.8,752.28 315.2,753.85 315.6,754.84 316,755.35" fill="none" stroke="#5656d2" stroke-width="0.72" stroke-linejoin="round"/>
<polyline points="352.4,755.03 352.8,754.1 353.2,752.39 353.6,749.78 354,746.55 354.4,743.47 354.8,741.56 355.2,741.56 355.6,743.47 356,746.55 356.4,749.78 356.8,752.39 357.2,754.1 357.6,755.03" fill="none" stroke="#5656d2" stroke-width="0.72" stroke-linejoin="round"/>
<polyline points="366.4,755.05 366.8,754.2 367.2,752.71 367.6,750.54 368,748.01 368.4,745.79 368.8,744.65 369.2,745.04 369.6,746.81 370,749.29 370.4,751.7 370.8,753.54 371.2,754.69 371.6,755.29" fill="none" stroke="#5656d2" stroke-width="0.72" stroke-linejoin="round"/>
<polyline points="301.2,755.14 301.6,754.32 302,752.74 302.4,750.22 302.8,746.92 303.2,743.53 303.6,741.11 304,740.57 304.4,742.13 304.8,745.17 305.2,748.61 305.6,751.49 306,753.33 306.4,753.99 306.8,753.56 307.2,752.11 307.6,749.89 308,747.39 308.4,745.38 308.8,744.6 309.2,745.38 309.6,747.4 310,749.92 310.4,752.22 310.8,753.89 311.2,754.89 311.6,755.38" fill="none" stroke="#2a2a2a" stroke-width="0.72" stroke-linejoin="round"/>
<polyline points="333.2,755.37 333.6,754.8 334,753.55 334.4,751.26 334.8,747.77 335.2,743.44 335.6,739.31 336,736.75 336.4,736.75 336.8,739.31 337.2,743.43 337.6,747.76 338,751.22 338.4,753.43 338.8,754.45 339.2,754.51 339.6,753.75 340,752.25 340.4,750.21 340.8,748.09 341.2,746.58 341.6,746.24 342,747.22 342.4,749.12 342.8,751.29 343.2,753.14 343.6,754.41 344,755.14" fill="none" stroke="#2a2a2a" stroke-width="0.72" stroke-linejoin="round"/>
<polyline points="361.2,755.34 361.6,754.77 362,753.63 362.4,751.72 362.8,749.09 363.2,746.2 363.6,743.89 364,743 364.4,743.89 364.8,746.2 365.2,749.09 365.6,751.72 366,753.63 366.4,754.77 366.8,755.34" fill="none" stroke="#2a2a2a" stroke-width="0.72" stroke-linejoin="round"/>
<polyline points="315.2,755.44 315.6,754.99 316,754.01 316.4,752.2 316.8,749.45 317.2,746.04 317.6,742.79 318,740.77 318.4,740.77 318.8,742.79 319.2,746.04 319.6,749.45 320,752.2 320.4,754.01 320.8,754.99 321.2,755.44" fill="none" stroke="#e04848" stroke-width="0.72" stroke-linejoin="round"/>
<polyline points="328.4,755.26 328.8,754.64 329.2,753.51 329.6,751.79 330,749.66 330.4,747.63 330.8,746.37 331.2,746.37 331.6,747.63 332,749.66 332.4,751.79 332.8,753.51 333.2,754.64 333.6,755.26" fill="none" stroke="#e04848" stroke-width="0.72" stroke-linejoin="round"/>
<polyline points="347.2,755.42 347.6,754.95 348,753.98 348.4,752.28 348.8,749.8 349.2,746.9 349.6,744.36 350,743.06 350.4,743.51 350.8,745.53 351.2,748.36 351.6,751.12 352,753.23 352.4,754.55 352.8,755.23" fill="none" stroke="#e04848" stroke-width="0.72" stroke-linejoin="round"/>
<polyline points="356.4,755.42 356.8,754.92 357.2,753.83 357.6,751.83 358,748.79 358.4,745.03 358.8,741.43 359.2,739.2 359.6,739.2 360,741.43 360.4,745.03 360.8,748.79 361.2,751.83 361.6,753.83 362,754.92 362.4,755.42" fill="none" stroke="#e04848" stroke-width="0.72" stroke-linejoin="round"/>
<line x1="301.2" y1="755.7" x2="376.5" y2="755.7" stroke="#8a8a8a" stroke-width="0.55"/>
<text x="301.5" y="761.9" font-size="5.55" fill="#111">6:22020339</text>
<text x="374.3" y="761.9" font-size="5.55" text-anchor="end" fill="#111">6:22020542</text>
<path d="M306.5 800.8a33.9 33.9 0 1 0 67.8 0a33.9 33.9 0 1 0 -67.8 0ZM323.8 800.8a16.6 16.6 0 1 0 33.2 0a16.6 16.6 0 1 0 -33.2 0Z" fill="#c8087c" fill-rule="evenodd" stroke="#6a6a6a" stroke-width="0.65"/>
<line x1="339.4" y1="755.7" x2="339.4" y2="784.2" stroke="#6a6a6a" stroke-width="0.5"/>
<text x="339.7" y="828.2" font-size="5.6" text-anchor="middle" fill="#333" stroke="#333" stroke-width="0.12">4</text>
<text x="339.9" y="799.8" font-size="5.3" text-anchor="middle" fill="#222">circCASC15</text>
<text x="339.9" y="806" font-size="5.3" text-anchor="middle" fill="#222">(4)</text>
<rect x="0" y="0" width="520" height="1.5" fill="#000"/>
<rect x="0" y="0" width="1.5" height="854" fill="#000"/>
<rect x="518" y="0" width="2" height="854" fill="#000"/>
<rect x="0" y="852" width="520" height="2" fill="#000"/>
</svg></body></html>
